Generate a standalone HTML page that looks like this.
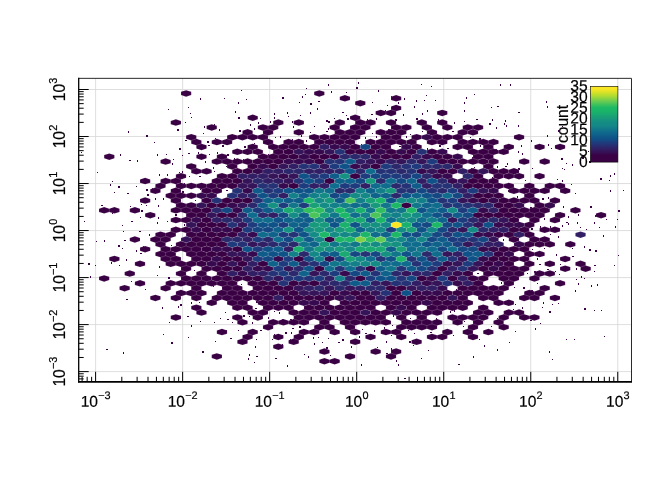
<!DOCTYPE html><html><head><meta charset="utf-8"><title>hexbin</title>
<style>html,body{margin:0;padding:0;background:#fff}svg{display:block}text{font-family:"Liberation Sans",sans-serif;fill:#000}</style></head><body>
<svg width="672" height="480" viewBox="0 0 672 480">
<rect width="672" height="480" fill="#fff"/>
<path d="M95.60 78.30V381.80M78.70 89.50H632.00M182.63 78.30V381.80M78.70 136.52H632.00M269.66 78.30V381.80M78.70 183.54H632.00M356.69 78.30V381.80M78.70 230.56H632.00M443.72 78.30V381.80M78.70 277.58H632.00M530.75 78.30V381.80M78.70 324.60H632.00M617.78 78.30V381.80M78.70 371.62H632.00" stroke="#d6d6d6" stroke-width="0.8" fill="none"/>
<g fill="#3a0044" shape-rendering="crispEdges">
<rect x="328" y="84" width="1" height="2"/>
<rect x="358" y="82" width="1" height="2"/>
<rect x="421" y="84" width="1" height="1"/>
<rect x="431" y="86" width="1" height="1"/>
<rect x="500" y="84" width="1" height="2"/>
<rect x="510" y="84" width="1" height="2"/>
<rect x="241" y="90" width="1" height="1"/>
<rect x="306" y="88" width="1" height="1"/>
<rect x="356" y="87" width="2" height="2"/>
<rect x="378" y="90" width="1" height="2"/>
<rect x="305" y="94" width="1" height="1"/>
<rect x="331" y="91" width="1" height="2"/>
<rect x="346" y="92" width="1" height="1"/>
<rect x="391" y="96" width="1" height="1"/>
<rect x="426" y="95" width="1" height="1"/>
<rect x="474" y="94" width="1" height="1"/>
<rect x="200" y="98" width="1" height="2"/>
<rect x="224" y="98" width="1" height="1"/>
<rect x="246" y="99" width="1" height="1"/>
<rect x="282" y="97" width="2" height="2"/>
<rect x="302" y="96" width="1" height="2"/>
<rect x="318" y="101" width="2" height="1"/>
<rect x="404" y="98" width="1" height="2"/>
<rect x="416" y="100" width="1" height="2"/>
<rect x="424" y="100" width="1" height="1"/>
<rect x="435" y="100" width="1" height="1"/>
<rect x="466" y="97" width="1" height="2"/>
<rect x="238" y="102" width="1" height="2"/>
<rect x="299" y="102" width="1" height="1"/>
<rect x="310" y="103" width="2" height="2"/>
<rect x="372" y="102" width="1" height="1"/>
<rect x="387" y="105" width="1" height="1"/>
<rect x="398" y="102" width="1" height="2"/>
<rect x="414" y="106" width="1" height="2"/>
<rect x="464" y="102" width="1" height="2"/>
<rect x="546" y="101" width="1" height="2"/>
<rect x="168" y="109" width="1" height="1"/>
<rect x="188" y="107" width="1" height="1"/>
<rect x="317" y="108" width="1" height="2"/>
<rect x="385" y="110" width="1" height="2"/>
<rect x="427" y="110" width="1" height="2"/>
<rect x="464" y="110" width="1" height="2"/>
<rect x="491" y="107" width="1" height="1"/>
<rect x="497" y="106" width="2" height="1"/>
<rect x="547" y="106" width="1" height="2"/>
<rect x="190" y="113" width="1" height="1"/>
<rect x="235" y="111" width="1" height="2"/>
<rect x="274" y="113" width="1" height="2"/>
<rect x="287" y="112" width="1" height="2"/>
<rect x="300" y="115" width="1" height="1"/>
<rect x="310" y="112" width="1" height="2"/>
<rect x="342" y="112" width="2" height="1"/>
<rect x="346" y="115" width="1" height="1"/>
<rect x="371" y="114" width="2" height="1"/>
<rect x="403" y="114" width="1" height="2"/>
<rect x="422" y="113" width="1" height="2"/>
<rect x="518" y="112" width="2" height="1"/>
<rect x="191" y="117" width="1" height="1"/>
<rect x="238" y="117" width="2" height="2"/>
<rect x="260" y="118" width="1" height="1"/>
<rect x="274" y="117" width="1" height="2"/>
<rect x="288" y="116" width="1" height="1"/>
<rect x="326" y="120" width="2" height="2"/>
<rect x="334" y="118" width="1" height="1"/>
<rect x="347" y="118" width="2" height="2"/>
<rect x="367" y="119" width="1" height="2"/>
<rect x="376" y="118" width="1" height="2"/>
<rect x="395" y="119" width="2" height="2"/>
<rect x="416" y="118" width="2" height="2"/>
<rect x="438" y="119" width="1" height="2"/>
<rect x="476" y="119" width="2" height="1"/>
<rect x="492" y="119" width="1" height="2"/>
<rect x="505" y="120" width="1" height="2"/>
<rect x="185" y="122" width="1" height="1"/>
<rect x="214" y="124" width="1" height="2"/>
<rect x="250" y="124" width="1" height="2"/>
<rect x="258" y="122" width="1" height="2"/>
<rect x="270" y="121" width="1" height="2"/>
<rect x="292" y="121" width="1" height="2"/>
<rect x="328" y="121" width="2" height="2"/>
<rect x="454" y="122" width="1" height="2"/>
<rect x="464" y="121" width="1" height="1"/>
<rect x="489" y="123" width="2" height="2"/>
<rect x="504" y="123" width="1" height="2"/>
<rect x="177" y="129" width="2" height="2"/>
<rect x="204" y="126" width="1" height="2"/>
<rect x="219" y="129" width="1" height="2"/>
<rect x="239" y="130" width="2" height="2"/>
<rect x="254" y="128" width="1" height="2"/>
<rect x="293" y="126" width="1" height="2"/>
<rect x="314" y="126" width="1" height="1"/>
<rect x="328" y="128" width="1" height="2"/>
<rect x="388" y="129" width="2" height="2"/>
<rect x="496" y="127" width="1" height="2"/>
<rect x="506" y="125" width="1" height="2"/>
<rect x="518" y="125" width="1" height="2"/>
<rect x="562" y="126" width="1" height="1"/>
<rect x="128" y="131" width="1" height="2"/>
<rect x="203" y="133" width="1" height="1"/>
<rect x="310" y="132" width="1" height="1"/>
<rect x="326" y="131" width="2" height="1"/>
<rect x="372" y="133" width="1" height="1"/>
<rect x="410" y="134" width="1" height="1"/>
<rect x="422" y="131" width="1" height="1"/>
<rect x="452" y="131" width="2" height="1"/>
<rect x="558" y="130" width="1" height="2"/>
<rect x="146" y="135" width="2" height="2"/>
<rect x="185" y="140" width="2" height="1"/>
<rect x="215" y="138" width="1" height="1"/>
<rect x="275" y="137" width="1" height="1"/>
<rect x="280" y="136" width="1" height="2"/>
<rect x="292" y="139" width="1" height="2"/>
<rect x="301" y="135" width="1" height="2"/>
<rect x="365" y="137" width="1" height="2"/>
<rect x="376" y="136" width="1" height="2"/>
<rect x="406" y="136" width="1" height="2"/>
<rect x="470" y="137" width="1" height="1"/>
<rect x="479" y="138" width="2" height="2"/>
<rect x="547" y="135" width="1" height="2"/>
<rect x="154" y="142" width="1" height="1"/>
<rect x="207" y="141" width="2" height="2"/>
<rect x="254" y="143" width="1" height="1"/>
<rect x="306" y="140" width="1" height="2"/>
<rect x="361" y="144" width="1" height="2"/>
<rect x="531" y="140" width="1" height="2"/>
<rect x="548" y="144" width="1" height="2"/>
<rect x="179" y="148" width="2" height="2"/>
<rect x="208" y="145" width="2" height="1"/>
<rect x="222" y="145" width="2" height="2"/>
<rect x="244" y="146" width="2" height="2"/>
<rect x="399" y="146" width="2" height="1"/>
<rect x="427" y="148" width="1" height="2"/>
<rect x="439" y="145" width="2" height="2"/>
<rect x="447" y="148" width="2" height="1"/>
<rect x="480" y="145" width="1" height="2"/>
<rect x="495" y="149" width="2" height="2"/>
<rect x="521" y="145" width="1" height="2"/>
<rect x="551" y="148" width="1" height="1"/>
<rect x="597" y="146" width="2" height="1"/>
<rect x="81" y="152" width="1" height="1"/>
<rect x="120" y="154" width="1" height="2"/>
<rect x="157" y="154" width="1" height="2"/>
<rect x="166" y="154" width="1" height="1"/>
<rect x="188" y="153" width="2" height="1"/>
<rect x="198" y="152" width="1" height="2"/>
<rect x="209" y="154" width="1" height="1"/>
<rect x="217" y="152" width="1" height="2"/>
<rect x="227" y="154" width="2" height="2"/>
<rect x="268" y="154" width="1" height="1"/>
<rect x="518" y="151" width="1" height="2"/>
<rect x="522" y="153" width="1" height="2"/>
<rect x="588" y="151" width="1" height="1"/>
<rect x="600" y="150" width="2" height="2"/>
<rect x="173" y="159" width="1" height="1"/>
<rect x="182" y="155" width="1" height="1"/>
<rect x="234" y="158" width="1" height="2"/>
<rect x="243" y="159" width="1" height="1"/>
<rect x="472" y="157" width="1" height="2"/>
<rect x="561" y="158" width="2" height="2"/>
<rect x="582" y="157" width="2" height="2"/>
<rect x="129" y="160" width="2" height="1"/>
<rect x="137" y="160" width="1" height="2"/>
<rect x="172" y="163" width="1" height="2"/>
<rect x="205" y="161" width="1" height="2"/>
<rect x="507" y="163" width="1" height="2"/>
<rect x="566" y="163" width="1" height="1"/>
<rect x="572" y="164" width="1" height="2"/>
<rect x="589" y="161" width="2" height="2"/>
<rect x="213" y="167" width="1" height="2"/>
<rect x="226" y="166" width="1" height="1"/>
<rect x="471" y="168" width="1" height="2"/>
<rect x="474" y="167" width="1" height="1"/>
<rect x="497" y="166" width="1" height="2"/>
<rect x="505" y="166" width="2" height="1"/>
<rect x="518" y="168" width="2" height="2"/>
<rect x="532" y="168" width="1" height="1"/>
<rect x="562" y="168" width="1" height="1"/>
<rect x="97" y="172" width="1" height="1"/>
<rect x="167" y="174" width="1" height="2"/>
<rect x="179" y="172" width="1" height="1"/>
<rect x="182" y="171" width="1" height="2"/>
<rect x="214" y="171" width="1" height="1"/>
<rect x="564" y="169" width="1" height="1"/>
<rect x="614" y="173" width="1" height="2"/>
<rect x="159" y="174" width="1" height="2"/>
<rect x="189" y="176" width="1" height="1"/>
<rect x="199" y="176" width="2" height="1"/>
<rect x="459" y="179" width="1" height="2"/>
<rect x="492" y="177" width="1" height="2"/>
<rect x="600" y="178" width="2" height="2"/>
<rect x="610" y="175" width="1" height="2"/>
<rect x="112" y="181" width="1" height="1"/>
<rect x="184" y="183" width="1" height="1"/>
<rect x="525" y="180" width="1" height="1"/>
<rect x="557" y="179" width="1" height="1"/>
<rect x="562" y="180" width="1" height="2"/>
<rect x="609" y="180" width="1" height="1"/>
<rect x="110" y="184" width="1" height="2"/>
<rect x="118" y="186" width="2" height="2"/>
<rect x="136" y="186" width="1" height="1"/>
<rect x="152" y="188" width="1" height="2"/>
<rect x="571" y="184" width="1" height="1"/>
<rect x="114" y="192" width="1" height="1"/>
<rect x="127" y="193" width="2" height="1"/>
<rect x="146" y="189" width="2" height="2"/>
<rect x="182" y="191" width="2" height="2"/>
<rect x="200" y="189" width="1" height="1"/>
<rect x="226" y="190" width="2" height="1"/>
<rect x="508" y="190" width="1" height="2"/>
<rect x="575" y="193" width="1" height="1"/>
<rect x="610" y="190" width="1" height="2"/>
<rect x="623" y="190" width="1" height="1"/>
<rect x="147" y="194" width="2" height="2"/>
<rect x="163" y="198" width="1" height="2"/>
<rect x="517" y="196" width="1" height="2"/>
<rect x="542" y="198" width="2" height="2"/>
<rect x="548" y="197" width="1" height="2"/>
<rect x="155" y="198" width="1" height="2"/>
<rect x="195" y="200" width="1" height="1"/>
<rect x="543" y="199" width="1" height="1"/>
<rect x="101" y="205" width="2" height="1"/>
<rect x="130" y="206" width="1" height="1"/>
<rect x="141" y="204" width="1" height="1"/>
<rect x="146" y="205" width="1" height="1"/>
<rect x="158" y="205" width="1" height="2"/>
<rect x="530" y="207" width="2" height="2"/>
<rect x="563" y="206" width="1" height="2"/>
<rect x="590" y="206" width="2" height="2"/>
<rect x="141" y="210" width="2" height="2"/>
<rect x="618" y="210" width="2" height="2"/>
<rect x="112" y="213" width="1" height="1"/>
<rect x="140" y="217" width="1" height="1"/>
<rect x="158" y="217" width="1" height="2"/>
<rect x="175" y="214" width="2" height="2"/>
<rect x="568" y="216" width="1" height="2"/>
<rect x="578" y="214" width="1" height="2"/>
<rect x="595" y="215" width="1" height="2"/>
<rect x="84" y="221" width="1" height="1"/>
<rect x="131" y="221" width="2" height="1"/>
<rect x="157" y="222" width="1" height="2"/>
<rect x="167" y="221" width="1" height="1"/>
<rect x="544" y="218" width="1" height="2"/>
<rect x="566" y="222" width="2" height="1"/>
<rect x="577" y="222" width="1" height="2"/>
<rect x="594" y="222" width="1" height="2"/>
<rect x="606" y="219" width="1" height="1"/>
<rect x="617" y="219" width="1" height="1"/>
<rect x="122" y="225" width="1" height="1"/>
<rect x="184" y="224" width="1" height="2"/>
<rect x="540" y="226" width="1" height="2"/>
<rect x="550" y="226" width="1" height="2"/>
<rect x="562" y="225" width="1" height="2"/>
<rect x="568" y="223" width="1" height="2"/>
<rect x="580" y="227" width="1" height="1"/>
<rect x="599" y="227" width="1" height="1"/>
<rect x="615" y="226" width="1" height="2"/>
<rect x="123" y="231" width="1" height="1"/>
<rect x="139" y="231" width="2" height="1"/>
<rect x="531" y="228" width="2" height="2"/>
<rect x="586" y="229" width="1" height="1"/>
<rect x="149" y="234" width="1" height="2"/>
<rect x="550" y="234" width="1" height="1"/>
<rect x="558" y="236" width="1" height="2"/>
<rect x="603" y="235" width="1" height="2"/>
<rect x="96" y="241" width="1" height="1"/>
<rect x="104" y="240" width="1" height="2"/>
<rect x="124" y="240" width="2" height="1"/>
<rect x="503" y="239" width="1" height="2"/>
<rect x="118" y="245" width="2" height="2"/>
<rect x="143" y="246" width="1" height="1"/>
<rect x="171" y="245" width="1" height="1"/>
<rect x="584" y="246" width="1" height="2"/>
<rect x="122" y="248" width="1" height="1"/>
<rect x="136" y="250" width="1" height="2"/>
<rect x="532" y="249" width="1" height="1"/>
<rect x="544" y="248" width="1" height="1"/>
<rect x="572" y="248" width="1" height="1"/>
<rect x="589" y="249" width="2" height="2"/>
<rect x="595" y="250" width="2" height="2"/>
<rect x="140" y="253" width="2" height="1"/>
<rect x="556" y="254" width="1" height="2"/>
<rect x="572" y="256" width="2" height="1"/>
<rect x="618" y="255" width="1" height="1"/>
<rect x="126" y="259" width="1" height="2"/>
<rect x="537" y="258" width="1" height="2"/>
<rect x="88" y="263" width="2" height="2"/>
<rect x="95" y="265" width="1" height="1"/>
<rect x="111" y="262" width="1" height="2"/>
<rect x="119" y="265" width="1" height="1"/>
<rect x="539" y="264" width="2" height="1"/>
<rect x="560" y="264" width="1" height="1"/>
<rect x="594" y="265" width="2" height="1"/>
<rect x="614" y="265" width="1" height="1"/>
<rect x="159" y="266" width="1" height="2"/>
<rect x="194" y="270" width="1" height="1"/>
<rect x="534" y="271" width="2" height="2"/>
<rect x="547" y="269" width="2" height="1"/>
<rect x="555" y="271" width="1" height="1"/>
<rect x="576" y="268" width="1" height="2"/>
<rect x="594" y="271" width="1" height="1"/>
<rect x="90" y="276" width="1" height="2"/>
<rect x="157" y="275" width="1" height="1"/>
<rect x="477" y="273" width="2" height="1"/>
<rect x="527" y="273" width="1" height="1"/>
<rect x="559" y="274" width="1" height="1"/>
<rect x="581" y="276" width="1" height="2"/>
<rect x="168" y="277" width="2" height="2"/>
<rect x="576" y="279" width="1" height="1"/>
<rect x="584" y="278" width="1" height="1"/>
<rect x="131" y="281" width="1" height="1"/>
<rect x="241" y="284" width="1" height="1"/>
<rect x="501" y="282" width="1" height="2"/>
<rect x="537" y="283" width="1" height="1"/>
<rect x="578" y="283" width="1" height="2"/>
<rect x="591" y="285" width="1" height="2"/>
<rect x="597" y="284" width="1" height="2"/>
<rect x="145" y="289" width="1" height="1"/>
<rect x="213" y="286" width="1" height="1"/>
<rect x="456" y="289" width="1" height="2"/>
<rect x="514" y="287" width="1" height="1"/>
<rect x="523" y="287" width="2" height="2"/>
<rect x="531" y="290" width="2" height="1"/>
<rect x="575" y="290" width="1" height="2"/>
<rect x="126" y="299" width="2" height="1"/>
<rect x="180" y="304" width="2" height="2"/>
<rect x="191" y="302" width="1" height="2"/>
<rect x="199" y="302" width="1" height="1"/>
<rect x="256" y="301" width="2" height="2"/>
<rect x="515" y="304" width="1" height="1"/>
<rect x="543" y="302" width="1" height="2"/>
<rect x="552" y="304" width="1" height="1"/>
<rect x="558" y="303" width="1" height="1"/>
<rect x="162" y="307" width="1" height="2"/>
<rect x="178" y="306" width="1" height="2"/>
<rect x="255" y="308" width="2" height="1"/>
<rect x="296" y="310" width="1" height="2"/>
<rect x="506" y="310" width="1" height="2"/>
<rect x="513" y="309" width="1" height="1"/>
<rect x="522" y="307" width="1" height="2"/>
<rect x="542" y="307" width="1" height="1"/>
<rect x="584" y="308" width="2" height="2"/>
<rect x="594" y="310" width="1" height="1"/>
<rect x="225" y="312" width="1" height="1"/>
<rect x="243" y="315" width="2" height="2"/>
<rect x="274" y="311" width="1" height="1"/>
<rect x="279" y="312" width="1" height="2"/>
<rect x="450" y="311" width="1" height="2"/>
<rect x="454" y="310" width="1" height="2"/>
<rect x="549" y="311" width="2" height="2"/>
<rect x="601" y="310" width="1" height="1"/>
<rect x="187" y="316" width="2" height="1"/>
<rect x="220" y="318" width="1" height="1"/>
<rect x="227" y="319" width="2" height="1"/>
<rect x="249" y="316" width="1" height="1"/>
<rect x="268" y="317" width="1" height="2"/>
<rect x="282" y="319" width="2" height="2"/>
<rect x="290" y="319" width="2" height="1"/>
<rect x="393" y="315" width="1" height="2"/>
<rect x="410" y="318" width="1" height="1"/>
<rect x="436" y="318" width="1" height="2"/>
<rect x="497" y="318" width="1" height="1"/>
<rect x="169" y="322" width="1" height="1"/>
<rect x="191" y="325" width="1" height="2"/>
<rect x="200" y="321" width="1" height="1"/>
<rect x="214" y="322" width="1" height="1"/>
<rect x="232" y="322" width="1" height="1"/>
<rect x="252" y="322" width="1" height="2"/>
<rect x="464" y="321" width="1" height="1"/>
<rect x="530" y="320" width="2" height="1"/>
<rect x="540" y="323" width="1" height="1"/>
<rect x="226" y="330" width="1" height="2"/>
<rect x="292" y="328" width="2" height="1"/>
<rect x="299" y="326" width="2" height="2"/>
<rect x="362" y="329" width="1" height="1"/>
<rect x="384" y="327" width="1" height="2"/>
<rect x="392" y="325" width="1" height="1"/>
<rect x="463" y="326" width="1" height="1"/>
<rect x="491" y="326" width="1" height="1"/>
<rect x="535" y="328" width="1" height="2"/>
<rect x="163" y="334" width="1" height="1"/>
<rect x="238" y="330" width="1" height="1"/>
<rect x="260" y="330" width="2" height="1"/>
<rect x="274" y="334" width="1" height="1"/>
<rect x="285" y="332" width="2" height="2"/>
<rect x="291" y="332" width="1" height="2"/>
<rect x="365" y="333" width="2" height="1"/>
<rect x="374" y="330" width="1" height="2"/>
<rect x="408" y="330" width="1" height="1"/>
<rect x="414" y="333" width="1" height="1"/>
<rect x="430" y="332" width="2" height="1"/>
<rect x="515" y="331" width="1" height="1"/>
<rect x="188" y="337" width="1" height="1"/>
<rect x="230" y="338" width="2" height="1"/>
<rect x="256" y="339" width="1" height="1"/>
<rect x="290" y="339" width="1" height="1"/>
<rect x="313" y="337" width="1" height="2"/>
<rect x="318" y="337" width="1" height="1"/>
<rect x="328" y="338" width="1" height="1"/>
<rect x="342" y="339" width="2" height="2"/>
<rect x="359" y="336" width="1" height="2"/>
<rect x="391" y="335" width="1" height="1"/>
<rect x="453" y="335" width="1" height="1"/>
<rect x="566" y="339" width="1" height="1"/>
<rect x="574" y="339" width="1" height="1"/>
<rect x="604" y="336" width="1" height="1"/>
<rect x="171" y="342" width="2" height="2"/>
<rect x="215" y="341" width="1" height="1"/>
<rect x="272" y="339" width="1" height="1"/>
<rect x="282" y="344" width="1" height="1"/>
<rect x="314" y="343" width="1" height="2"/>
<rect x="322" y="342" width="1" height="1"/>
<rect x="338" y="342" width="2" height="1"/>
<rect x="386" y="341" width="1" height="2"/>
<rect x="409" y="341" width="2" height="2"/>
<rect x="479" y="339" width="1" height="1"/>
<rect x="509" y="342" width="1" height="1"/>
<rect x="255" y="346" width="1" height="2"/>
<rect x="326" y="347" width="2" height="2"/>
<rect x="351" y="346" width="1" height="2"/>
<rect x="377" y="347" width="1" height="1"/>
<rect x="391" y="348" width="1" height="2"/>
<rect x="413" y="345" width="1" height="1"/>
<rect x="484" y="345" width="1" height="2"/>
<rect x="497" y="349" width="1" height="2"/>
<rect x="106" y="349" width="2" height="1"/>
<rect x="123" y="352" width="1" height="2"/>
<rect x="202" y="351" width="2" height="2"/>
<rect x="249" y="354" width="1" height="2"/>
<rect x="304" y="354" width="1" height="1"/>
<rect x="386" y="353" width="2" height="1"/>
<rect x="428" y="350" width="1" height="1"/>
<rect x="549" y="351" width="1" height="2"/>
<rect x="248" y="358" width="1" height="2"/>
<rect x="256" y="356" width="2" height="1"/>
<rect x="275" y="358" width="2" height="1"/>
<rect x="308" y="356" width="1" height="2"/>
<rect x="330" y="355" width="1" height="1"/>
<rect x="421" y="358" width="1" height="1"/>
<rect x="473" y="356" width="1" height="2"/>
<rect x="254" y="362" width="1" height="1"/>
<rect x="396" y="360" width="1" height="2"/>
<rect x="458" y="364" width="2" height="1"/>
<rect x="552" y="359" width="1" height="1"/>
<rect x="287" y="365" width="1" height="2"/>
<rect x="361" y="364" width="1" height="2"/>
<rect x="398" y="364" width="1" height="2"/>
<rect x="404" y="378" width="2" height="1"/>
</g>
<path d="M186.11 90.15L191.23 91.78L191.23 95.02L186.11 96.65L180.99 95.02L180.99 91.78ZM319.29 90.15L324.42 91.78L324.42 95.02L319.29 96.65L314.17 95.02L314.17 91.78ZM344.91 95.02L350.03 96.65L350.03 99.89L344.91 101.52L339.79 99.89L339.79 96.65ZM396.13 95.02L401.25 96.65L401.25 99.89L396.13 101.52L391.01 99.89L391.01 96.65ZM360.27 99.89L365.40 101.52L365.40 104.76L360.27 106.39L355.15 104.76L355.15 101.52ZM396.13 104.76L401.25 106.39L401.25 109.63L396.13 111.26L391.01 109.63L391.01 106.39ZM380.76 109.63L385.89 111.26L385.89 114.50L380.76 116.13L375.64 114.50L375.64 111.26ZM391.01 109.63L396.13 111.26L396.13 114.50L391.01 116.13L385.89 114.50L385.89 111.26ZM442.24 109.63L447.36 111.26L447.36 114.50L442.24 116.13L437.11 114.50L437.11 111.26ZM252.70 114.50L257.82 116.13L257.82 119.37L252.70 121.00L247.58 119.37L247.58 116.13ZM355.15 114.50L360.27 116.13L360.27 119.37L355.15 121.00L350.03 119.37L350.03 116.13ZM175.87 119.37L180.99 121.00L180.99 124.24L175.87 125.87L170.74 124.24L170.74 121.00ZM278.31 119.37L283.44 121.00L283.44 124.24L278.31 125.87L273.19 124.24L273.19 121.00ZM298.80 119.37L303.93 121.00L303.93 124.24L298.80 125.87L293.68 124.24L293.68 121.00ZM339.78 119.37L344.91 121.00L344.91 124.24L339.78 125.87L334.66 124.24L334.66 121.00ZM360.27 119.37L365.40 121.00L365.40 124.24L360.27 125.87L355.15 124.24L355.15 121.00ZM370.52 119.37L375.64 121.00L375.64 124.24L370.52 125.87L365.40 124.24L365.40 121.00ZM391.01 119.37L396.13 121.00L396.13 124.24L391.01 125.87L385.89 124.24L385.89 121.00ZM421.75 119.37L426.87 121.00L426.87 124.24L421.75 125.87L416.62 124.24L416.62 121.00ZM442.24 119.37L447.36 121.00L447.36 124.24L442.24 125.87L437.11 124.24L437.11 121.00ZM211.72 124.24L216.84 125.87L216.84 129.11L211.72 130.74L206.60 129.11L206.60 125.87ZM262.95 124.24L268.07 125.87L268.07 129.11L262.95 130.74L257.82 129.11L257.82 125.87ZM273.19 124.24L278.31 125.87L278.31 129.11L273.19 130.74L268.07 129.11L268.07 125.87ZM334.66 124.24L339.79 125.87L339.79 129.11L334.66 130.74L329.54 129.11L329.54 125.87ZM355.15 124.24L360.27 125.87L360.27 129.11L355.15 130.74L350.03 129.11L350.03 125.87ZM365.40 124.24L370.52 125.87L370.52 129.11L365.40 130.74L360.28 129.11L360.28 125.87ZM396.13 124.24L401.25 125.87L401.25 129.11L396.13 130.74L391.01 129.11L391.01 125.87ZM406.38 124.24L411.50 125.87L411.50 129.11L406.38 130.74L401.25 129.11L401.25 125.87ZM426.87 124.24L431.99 125.87L431.99 129.11L426.87 130.74L421.74 129.11L421.74 125.87ZM447.36 124.24L452.48 125.87L452.48 129.11L447.36 130.74L442.23 129.11L442.23 125.87ZM467.85 124.24L472.97 125.87L472.97 129.11L467.85 130.74L462.72 129.11L462.72 125.87ZM478.09 124.24L483.21 125.87L483.21 129.11L478.09 130.74L472.97 129.11L472.97 125.87ZM247.58 129.11L252.70 130.74L252.70 133.98L247.58 135.61L242.46 133.98L242.46 130.74ZM268.07 129.11L273.19 130.74L273.19 133.98L268.07 135.61L262.95 133.98L262.95 130.74ZM298.80 129.11L303.93 130.74L303.93 133.98L298.80 135.61L293.68 133.98L293.68 130.74ZM339.78 129.11L344.91 130.74L344.91 133.98L339.78 135.61L334.66 133.98L334.66 130.74ZM350.03 129.11L355.15 130.74L355.15 133.98L350.03 135.61L344.91 133.98L344.91 130.74ZM360.27 129.11L365.40 130.74L365.40 133.98L360.27 135.61L355.15 133.98L355.15 130.74ZM380.76 129.11L385.89 130.74L385.89 133.98L380.76 135.61L375.64 133.98L375.64 130.74ZM401.25 129.11L406.38 130.74L406.38 133.98L401.25 135.61L396.13 133.98L396.13 130.74ZM431.99 129.11L437.11 130.74L437.11 133.98L431.99 135.61L426.87 133.98L426.87 130.74ZM462.73 129.11L467.85 130.74L467.85 133.98L462.73 135.61L457.60 133.98L457.60 130.74ZM191.23 133.98L196.36 135.61L196.36 138.85L191.23 140.48L186.11 138.85L186.11 135.61ZM232.21 133.98L237.34 135.61L237.34 138.85L232.21 140.48L227.09 138.85L227.09 135.61ZM242.46 133.98L247.58 135.61L247.58 138.85L242.46 140.48L237.33 138.85L237.33 135.61ZM252.70 133.98L257.82 135.61L257.82 138.85L252.70 140.48L247.58 138.85L247.58 135.61ZM262.95 133.98L268.07 135.61L268.07 138.85L262.95 140.48L257.82 138.85L257.82 135.61ZM314.17 133.98L319.30 135.61L319.30 138.85L314.17 140.48L309.05 138.85L309.05 135.61ZM334.66 133.98L339.79 135.61L339.79 138.85L334.66 140.48L329.54 138.85L329.54 135.61ZM344.91 133.98L350.03 135.61L350.03 138.85L344.91 140.48L339.79 138.85L339.79 135.61ZM355.15 133.98L360.27 135.61L360.27 138.85L355.15 140.48L350.03 138.85L350.03 135.61ZM385.89 133.98L391.01 135.61L391.01 138.85L385.89 140.48L380.76 138.85L380.76 135.61ZM396.13 133.98L401.25 135.61L401.25 138.85L396.13 140.48L391.01 138.85L391.01 135.61ZM437.11 133.98L442.23 135.61L442.23 138.85L437.11 140.48L431.99 138.85L431.99 135.61ZM447.36 133.98L452.48 135.61L452.48 138.85L447.36 140.48L442.23 138.85L442.23 135.61ZM457.60 133.98L462.72 135.61L462.72 138.85L457.60 140.48L452.48 138.85L452.48 135.61ZM519.07 133.98L524.19 135.61L524.19 138.85L519.07 140.48L513.95 138.85L513.95 135.61ZM196.36 138.85L201.48 140.48L201.48 143.72L196.36 145.35L191.23 143.72L191.23 140.48ZM216.84 138.85L221.97 140.48L221.97 143.72L216.84 145.35L211.72 143.72L211.72 140.48ZM227.09 138.85L232.21 140.48L232.21 143.72L227.09 145.35L221.97 143.72L221.97 140.48ZM268.07 138.85L273.19 140.48L273.19 143.72L268.07 145.35L262.95 143.72L262.95 140.48ZM288.56 138.85L293.68 140.48L293.68 143.72L288.56 145.35L283.44 143.72L283.44 140.48ZM298.80 138.85L303.93 140.48L303.93 143.72L298.80 145.35L293.68 143.72L293.68 140.48ZM319.29 138.85L324.42 140.48L324.42 143.72L319.29 145.35L314.17 143.72L314.17 140.48ZM329.54 138.85L334.66 140.48L334.66 143.72L329.54 145.35L324.42 143.72L324.42 140.48ZM339.78 138.85L344.91 140.48L344.91 143.72L339.78 145.35L334.66 143.72L334.66 140.48ZM380.76 138.85L385.89 140.48L385.89 143.72L380.76 145.35L375.64 143.72L375.64 140.48ZM391.01 138.85L396.13 140.48L396.13 143.72L391.01 145.35L385.89 143.72L385.89 140.48ZM401.25 138.85L406.38 140.48L406.38 143.72L401.25 145.35L396.13 143.72L396.13 140.48ZM431.99 138.85L437.11 140.48L437.11 143.72L431.99 145.35L426.87 143.72L426.87 140.48ZM442.24 138.85L447.36 140.48L447.36 143.72L442.24 145.35L437.11 143.72L437.11 140.48ZM462.73 138.85L467.85 140.48L467.85 143.72L462.73 145.35L457.60 143.72L457.60 140.48ZM472.97 138.85L478.09 140.48L478.09 143.72L472.97 145.35L467.85 143.72L467.85 140.48ZM483.22 138.85L488.34 140.48L488.34 143.72L483.22 145.35L478.09 143.72L478.09 140.48ZM493.46 138.85L498.58 140.48L498.58 143.72L493.46 145.35L488.34 143.72L488.34 140.48ZM201.48 143.72L206.60 145.35L206.60 148.59L201.48 150.22L196.35 148.59L196.35 145.35ZM252.70 143.72L257.82 145.35L257.82 148.59L252.70 150.22L247.58 148.59L247.58 145.35ZM273.19 143.72L278.31 145.35L278.31 148.59L273.19 150.22L268.07 148.59L268.07 145.35ZM283.44 143.72L288.56 145.35L288.56 148.59L283.44 150.22L278.31 148.59L278.31 145.35ZM293.68 143.72L298.81 145.35L298.81 148.59L293.68 150.22L288.56 148.59L288.56 145.35ZM303.93 143.72L309.05 145.35L309.05 148.59L303.93 150.22L298.81 148.59L298.81 145.35ZM314.17 143.72L319.30 145.35L319.30 148.59L314.17 150.22L309.05 148.59L309.05 145.35ZM355.15 143.72L360.27 145.35L360.27 148.59L355.15 150.22L350.03 148.59L350.03 145.35ZM375.64 143.72L380.77 145.35L380.77 148.59L375.64 150.22L370.52 148.59L370.52 145.35ZM385.89 143.72L391.01 145.35L391.01 148.59L385.89 150.22L380.76 148.59L380.76 145.35ZM457.60 143.72L462.72 145.35L462.72 148.59L457.60 150.22L452.48 148.59L452.48 145.35ZM467.85 143.72L472.97 145.35L472.97 148.59L467.85 150.22L462.72 148.59L462.72 145.35ZM488.34 143.72L493.46 145.35L493.46 148.59L488.34 150.22L483.21 148.59L483.21 145.35ZM508.83 143.72L513.95 145.35L513.95 148.59L508.83 150.22L503.70 148.59L503.70 145.35ZM539.56 143.72L544.68 145.35L544.68 148.59L539.56 150.22L534.44 148.59L534.44 145.35ZM560.05 143.72L565.17 145.35L565.17 148.59L560.05 150.22L554.93 148.59L554.93 145.35ZM237.34 148.59L242.46 150.22L242.46 153.46L237.34 155.09L232.21 153.46L232.21 150.22ZM247.58 148.59L252.70 150.22L252.70 153.46L247.58 155.09L242.46 153.46L242.46 150.22ZM278.31 148.59L283.44 150.22L283.44 153.46L278.31 155.09L273.19 153.46L273.19 150.22ZM350.03 148.59L355.15 150.22L355.15 153.46L350.03 155.09L344.91 153.46L344.91 150.22ZM360.27 148.59L365.40 150.22L365.40 153.46L360.27 155.09L355.15 153.46L355.15 150.22ZM370.52 148.59L375.64 150.22L375.64 153.46L370.52 155.09L365.40 153.46L365.40 150.22ZM391.01 148.59L396.13 150.22L396.13 153.46L391.01 155.09L385.89 153.46L385.89 150.22ZM411.50 148.59L416.62 150.22L416.62 153.46L411.50 155.09L406.38 153.46L406.38 150.22ZM431.99 148.59L437.11 150.22L437.11 153.46L431.99 155.09L426.87 153.46L426.87 150.22ZM472.97 148.59L478.09 150.22L478.09 153.46L472.97 155.09L467.85 153.46L467.85 150.22ZM483.22 148.59L488.34 150.22L488.34 153.46L483.22 155.09L478.09 153.46L478.09 150.22ZM493.46 148.59L498.58 150.22L498.58 153.46L493.46 155.09L488.34 153.46L488.34 150.22ZM503.70 148.59L508.83 150.22L508.83 153.46L503.70 155.09L498.58 153.46L498.58 150.22ZM109.27 153.46L114.40 155.09L114.40 158.33L109.27 159.96L104.15 158.33L104.15 155.09ZM201.48 153.46L206.60 155.09L206.60 158.33L201.48 159.96L196.35 158.33L196.35 155.09ZM221.97 153.46L227.09 155.09L227.09 158.33L221.97 159.96L216.84 158.33L216.84 155.09ZM262.95 153.46L268.07 155.09L268.07 158.33L262.95 159.96L257.82 158.33L257.82 155.09ZM273.19 153.46L278.31 155.09L278.31 158.33L273.19 159.96L268.07 158.33L268.07 155.09ZM283.44 153.46L288.56 155.09L288.56 158.33L283.44 159.96L278.31 158.33L278.31 155.09ZM293.68 153.46L298.81 155.09L298.81 158.33L293.68 159.96L288.56 158.33L288.56 155.09ZM314.17 153.46L319.30 155.09L319.30 158.33L314.17 159.96L309.05 158.33L309.05 155.09ZM396.13 153.46L401.25 155.09L401.25 158.33L396.13 159.96L391.01 158.33L391.01 155.09ZM406.38 153.46L411.50 155.09L411.50 158.33L406.38 159.96L401.25 158.33L401.25 155.09ZM447.36 153.46L452.48 155.09L452.48 158.33L447.36 159.96L442.23 158.33L442.23 155.09ZM478.09 153.46L483.21 155.09L483.21 158.33L478.09 159.96L472.97 158.33L472.97 155.09ZM488.34 153.46L493.46 155.09L493.46 158.33L488.34 159.96L483.21 158.33L483.21 155.09ZM165.62 158.33L170.74 159.96L170.74 163.20L165.62 164.83L160.50 163.20L160.50 159.96ZM216.84 158.33L221.97 159.96L221.97 163.20L216.84 164.83L211.72 163.20L211.72 159.96ZM227.09 158.33L232.21 159.96L232.21 163.20L227.09 164.83L221.97 163.20L221.97 159.96ZM237.34 158.33L242.46 159.96L242.46 163.20L237.34 164.83L232.21 163.20L232.21 159.96ZM247.58 158.33L252.70 159.96L252.70 163.20L247.58 164.83L242.46 163.20L242.46 159.96ZM268.07 158.33L273.19 159.96L273.19 163.20L268.07 164.83L262.95 163.20L262.95 159.96ZM278.31 158.33L283.44 159.96L283.44 163.20L278.31 164.83L273.19 163.20L273.19 159.96ZM319.29 158.33L324.42 159.96L324.42 163.20L319.29 164.83L314.17 163.20L314.17 159.96ZM462.73 158.33L467.85 159.96L467.85 163.20L462.73 164.83L457.60 163.20L457.60 159.96ZM472.97 158.33L478.09 159.96L478.09 163.20L472.97 164.83L467.85 163.20L467.85 159.96ZM493.46 158.33L498.58 159.96L498.58 163.20L493.46 164.83L488.34 163.20L488.34 159.96ZM524.19 158.33L529.32 159.96L529.32 163.20L524.19 164.83L519.07 163.20L519.07 159.96ZM544.68 158.33L549.81 159.96L549.81 163.20L544.68 164.83L539.56 163.20L539.56 159.96ZM191.23 163.20L196.36 164.83L196.36 168.07L191.23 169.70L186.11 168.07L186.11 164.83ZM232.21 163.20L237.34 164.83L237.34 168.07L232.21 169.70L227.09 168.07L227.09 164.83ZM252.70 163.20L257.82 164.83L257.82 168.07L252.70 169.70L247.58 168.07L247.58 164.83ZM488.34 163.20L493.46 164.83L493.46 168.07L488.34 169.70L483.21 168.07L483.21 164.83ZM196.36 168.07L201.48 169.70L201.48 172.94L196.36 174.57L191.23 172.94L191.23 169.70ZM206.60 168.07L211.72 169.70L211.72 172.94L206.60 174.57L201.48 172.94L201.48 169.70ZM247.58 168.07L252.70 169.70L252.70 172.94L247.58 174.57L242.46 172.94L242.46 169.70ZM452.48 168.07L457.60 169.70L457.60 172.94L452.48 174.57L447.36 172.94L447.36 169.70ZM472.97 168.07L478.09 169.70L478.09 172.94L472.97 174.57L467.85 172.94L467.85 169.70ZM493.46 168.07L498.58 169.70L498.58 172.94L493.46 174.57L488.34 172.94L488.34 169.70ZM503.70 168.07L508.83 169.70L508.83 172.94L503.70 174.57L498.58 172.94L498.58 169.70ZM180.99 172.94L186.11 174.57L186.11 177.81L180.99 179.44L175.87 177.81L175.87 174.57ZM232.21 172.94L237.34 174.57L237.34 177.81L232.21 179.44L227.09 177.81L227.09 174.57ZM478.09 172.94L483.21 174.57L483.21 177.81L478.09 179.44L472.97 177.81L472.97 174.57ZM498.58 172.94L503.70 174.57L503.70 177.81L498.58 179.44L493.46 177.81L493.46 174.57ZM519.07 172.94L524.19 174.57L524.19 177.81L519.07 179.44L513.95 177.81L513.95 174.57ZM539.56 172.94L544.68 174.57L544.68 177.81L539.56 179.44L534.44 177.81L534.44 174.57ZM145.13 177.81L150.25 179.44L150.25 182.68L145.13 184.31L140.01 182.68L140.01 179.44ZM165.62 177.81L170.74 179.44L170.74 182.68L165.62 184.31L160.50 182.68L160.50 179.44ZM175.87 177.81L180.99 179.44L180.99 182.68L175.87 184.31L170.74 182.68L170.74 179.44ZM237.34 177.81L242.46 179.44L242.46 182.68L237.34 184.31L232.21 182.68L232.21 179.44ZM472.97 177.81L478.09 179.44L478.09 182.68L472.97 184.31L467.85 182.68L467.85 179.44ZM483.22 177.81L488.34 179.44L488.34 182.68L483.22 184.31L478.09 182.68L478.09 179.44ZM160.50 182.68L165.62 184.31L165.62 187.55L160.50 189.18L155.38 187.55L155.38 184.31ZM191.23 182.68L196.36 184.31L196.36 187.55L191.23 189.18L186.11 187.55L186.11 184.31ZM201.48 182.68L206.60 184.31L206.60 187.55L201.48 189.18L196.35 187.55L196.35 184.31ZM211.72 182.68L216.84 184.31L216.84 187.55L211.72 189.18L206.60 187.55L206.60 184.31ZM293.68 182.68L298.81 184.31L298.81 187.55L293.68 189.18L288.56 187.55L288.56 184.31ZM467.85 182.68L472.97 184.31L472.97 187.55L467.85 189.18L462.72 187.55L462.72 184.31ZM488.34 182.68L493.46 184.31L493.46 187.55L488.34 189.18L483.21 187.55L483.21 184.31ZM508.83 182.68L513.95 184.31L513.95 187.55L508.83 189.18L503.70 187.55L503.70 184.31ZM529.32 182.68L534.44 184.31L534.44 187.55L529.32 189.18L524.20 187.55L524.20 184.31ZM549.81 182.68L554.93 184.31L554.93 187.55L549.81 189.18L544.69 187.55L544.69 184.31ZM560.05 182.68L565.17 184.31L565.17 187.55L560.05 189.18L554.93 187.55L554.93 184.31ZM155.38 187.55L160.50 189.18L160.50 192.42L155.38 194.05L150.25 192.42L150.25 189.18ZM175.87 187.55L180.99 189.18L180.99 192.42L175.87 194.05L170.74 192.42L170.74 189.18ZM206.60 187.55L211.72 189.18L211.72 192.42L206.60 194.05L201.48 192.42L201.48 189.18ZM216.84 187.55L221.97 189.18L221.97 192.42L216.84 194.05L211.72 192.42L211.72 189.18ZM513.95 187.55L519.07 189.18L519.07 192.42L513.95 194.05L508.83 192.42L508.83 189.18ZM534.44 187.55L539.56 189.18L539.56 192.42L534.44 194.05L529.32 192.42L529.32 189.18ZM544.68 187.55L549.81 189.18L549.81 192.42L544.68 194.05L539.56 192.42L539.56 189.18ZM565.17 187.55L570.30 189.18L570.30 192.42L565.17 194.05L560.05 192.42L560.05 189.18ZM170.74 192.42L175.87 194.05L175.87 197.29L170.74 198.92L165.62 197.29L165.62 194.05ZM180.99 192.42L186.11 194.05L186.11 197.29L180.99 198.92L175.87 197.29L175.87 194.05ZM191.23 192.42L196.36 194.05L196.36 197.29L191.23 198.92L186.11 197.29L186.11 194.05ZM478.09 192.42L483.21 194.05L483.21 197.29L478.09 198.92L472.97 197.29L472.97 194.05ZM488.34 192.42L493.46 194.05L493.46 197.29L488.34 198.92L483.21 197.29L483.21 194.05ZM498.58 192.42L503.70 194.05L503.70 197.29L498.58 198.92L493.46 197.29L493.46 194.05ZM529.32 192.42L534.44 194.05L534.44 197.29L529.32 198.92L524.20 197.29L524.20 194.05ZM145.13 197.29L150.25 198.92L150.25 202.16L145.13 203.79L140.01 202.16L140.01 198.92ZM175.87 197.29L180.99 198.92L180.99 202.16L175.87 203.79L170.74 202.16L170.74 198.92ZM206.60 197.29L211.72 198.92L211.72 202.16L206.60 203.79L201.48 202.16L201.48 198.92ZM227.09 197.29L232.21 198.92L232.21 202.16L227.09 203.79L221.97 202.16L221.97 198.92ZM524.19 197.29L529.32 198.92L529.32 202.16L524.19 203.79L519.07 202.16L519.07 198.92ZM534.44 197.29L539.56 198.92L539.56 202.16L534.44 203.79L529.32 202.16L529.32 198.92ZM554.93 197.29L560.05 198.92L560.05 202.16L554.93 203.79L549.81 202.16L549.81 198.92ZM180.99 202.16L186.11 203.79L186.11 207.03L180.99 208.66L175.87 207.03L175.87 203.79ZM191.23 202.16L196.36 203.79L196.36 207.03L191.23 208.66L186.11 207.03L186.11 203.79ZM221.97 202.16L227.09 203.79L227.09 207.03L221.97 208.66L216.84 207.03L216.84 203.79ZM508.83 202.16L513.95 203.79L513.95 207.03L508.83 208.66L503.70 207.03L503.70 203.79ZM539.56 202.16L544.68 203.79L544.68 207.03L539.56 208.66L534.44 207.03L534.44 203.79ZM104.15 207.03L109.27 208.66L109.27 211.90L104.15 213.53L99.03 211.90L99.03 208.66ZM114.40 207.03L119.52 208.66L119.52 211.90L114.40 213.53L109.27 211.90L109.27 208.66ZM134.88 207.03L140.01 208.66L140.01 211.90L134.88 213.53L129.76 211.90L129.76 208.66ZM175.87 207.03L180.99 208.66L180.99 211.90L175.87 213.53L170.74 211.90L170.74 208.66ZM186.11 207.03L191.23 208.66L191.23 211.90L186.11 213.53L180.99 211.90L180.99 208.66ZM196.36 207.03L201.48 208.66L201.48 211.90L196.36 213.53L191.23 211.90L191.23 208.66ZM206.60 207.03L211.72 208.66L211.72 211.90L206.60 213.53L201.48 211.90L201.48 208.66ZM503.70 207.03L508.83 208.66L508.83 211.90L503.70 213.53L498.58 211.90L498.58 208.66ZM524.19 207.03L529.32 208.66L529.32 211.90L524.19 213.53L519.07 211.90L519.07 208.66ZM534.44 207.03L539.56 208.66L539.56 211.90L534.44 213.53L529.32 211.90L529.32 208.66ZM544.68 207.03L549.81 208.66L549.81 211.90L544.68 213.53L539.56 211.90L539.56 208.66ZM575.42 207.03L580.54 208.66L580.54 211.90L575.42 213.53L570.30 211.90L570.30 208.66ZM150.25 211.90L155.38 213.53L155.38 216.77L150.25 218.40L145.13 216.77L145.13 213.53ZM191.23 211.90L196.36 213.53L196.36 216.77L191.23 218.40L186.11 216.77L186.11 213.53ZM201.48 211.90L206.60 213.53L206.60 216.77L201.48 218.40L196.35 216.77L196.35 213.53ZM478.09 211.90L483.21 213.53L483.21 216.77L478.09 218.40L472.97 216.77L472.97 213.53ZM488.34 211.90L493.46 213.53L493.46 216.77L488.34 218.40L483.21 216.77L483.21 213.53ZM498.58 211.90L503.70 213.53L503.70 216.77L498.58 218.40L493.46 216.77L493.46 213.53ZM508.83 211.90L513.95 213.53L513.95 216.77L508.83 218.40L503.70 216.77L503.70 213.53ZM519.07 211.90L524.19 213.53L524.19 216.77L519.07 218.40L513.95 216.77L513.95 213.53ZM529.32 211.90L534.44 213.53L534.44 216.77L529.32 218.40L524.20 216.77L524.20 213.53ZM539.56 211.90L544.68 213.53L544.68 216.77L539.56 218.40L534.44 216.77L534.44 213.53ZM560.05 211.90L565.17 213.53L565.17 216.77L560.05 218.40L554.93 216.77L554.93 213.53ZM601.03 211.90L606.15 213.53L606.15 216.77L601.03 218.40L595.91 216.77L595.91 213.53ZM186.11 216.77L191.23 218.40L191.23 221.64L186.11 223.27L180.99 221.64L180.99 218.40ZM534.44 216.77L539.56 218.40L539.56 221.64L534.44 223.27L529.32 221.64L529.32 218.40ZM554.93 216.77L560.05 218.40L560.05 221.64L554.93 223.27L549.81 221.64L549.81 218.40ZM201.48 221.64L206.60 223.27L206.60 226.51L201.48 228.14L196.35 226.51L196.35 223.27ZM211.72 221.64L216.84 223.27L216.84 226.51L211.72 228.14L206.60 226.51L206.60 223.27ZM221.97 221.64L227.09 223.27L227.09 226.51L221.97 228.14L216.84 226.51L216.84 223.27ZM529.32 221.64L534.44 223.27L534.44 226.51L529.32 228.14L524.20 226.51L524.20 223.27ZM175.87 226.51L180.99 228.14L180.99 231.38L175.87 233.01L170.74 231.38L170.74 228.14ZM186.11 226.51L191.23 228.14L191.23 231.38L186.11 233.01L180.99 231.38L180.99 228.14ZM513.95 226.51L519.07 228.14L519.07 231.38L513.95 233.01L508.83 231.38L508.83 228.14ZM524.19 226.51L529.32 228.14L529.32 231.38L524.19 233.01L519.07 231.38L519.07 228.14ZM544.68 226.51L549.81 228.14L549.81 231.38L544.68 233.01L539.56 231.38L539.56 228.14ZM554.93 226.51L560.05 228.14L560.05 231.38L554.93 233.01L549.81 231.38L549.81 228.14ZM160.50 231.38L165.62 233.01L165.62 236.25L160.50 237.88L155.38 236.25L155.38 233.01ZM170.74 231.38L175.87 233.01L175.87 236.25L170.74 237.88L165.62 236.25L165.62 233.01ZM191.23 231.38L196.36 233.01L196.36 236.25L191.23 237.88L186.11 236.25L186.11 233.01ZM201.48 231.38L206.60 233.01L206.60 236.25L201.48 237.88L196.35 236.25L196.35 233.01ZM508.83 231.38L513.95 233.01L513.95 236.25L508.83 237.88L503.70 236.25L503.70 233.01ZM529.32 231.38L534.44 233.01L534.44 236.25L529.32 237.88L524.20 236.25L524.20 233.01ZM134.88 236.25L140.01 237.88L140.01 241.12L134.88 242.75L129.76 241.12L129.76 237.88ZM155.38 236.25L160.50 237.88L160.50 241.12L155.38 242.75L150.25 241.12L150.25 237.88ZM165.62 236.25L170.74 237.88L170.74 241.12L165.62 242.75L160.50 241.12L160.50 237.88ZM196.36 236.25L201.48 237.88L201.48 241.12L196.36 242.75L191.23 241.12L191.23 237.88ZM206.60 236.25L211.72 237.88L211.72 241.12L206.60 242.75L201.48 241.12L201.48 237.88ZM216.84 236.25L221.97 237.88L221.97 241.12L216.84 242.75L211.72 241.12L211.72 237.88ZM513.95 236.25L519.07 237.88L519.07 241.12L513.95 242.75L508.83 241.12L508.83 237.88ZM534.44 236.25L539.56 237.88L539.56 241.12L534.44 242.75L529.32 241.12L529.32 237.88ZM544.68 236.25L549.81 237.88L549.81 241.12L544.68 242.75L539.56 241.12L539.56 237.88ZM160.50 241.12L165.62 242.75L165.62 245.99L160.50 247.62L155.38 245.99L155.38 242.75ZM180.99 241.12L186.11 242.75L186.11 245.99L180.99 247.62L175.87 245.99L175.87 242.75ZM191.23 241.12L196.36 242.75L196.36 245.99L191.23 247.62L186.11 245.99L186.11 242.75ZM201.48 241.12L206.60 242.75L206.60 245.99L201.48 247.62L196.35 245.99L196.35 242.75ZM211.72 241.12L216.84 242.75L216.84 245.99L211.72 247.62L206.60 245.99L206.60 242.75ZM221.97 241.12L227.09 242.75L227.09 245.99L221.97 247.62L216.84 245.99L216.84 242.75ZM529.32 241.12L534.44 242.75L534.44 245.99L529.32 247.62L524.20 245.99L524.20 242.75ZM549.81 241.12L554.93 242.75L554.93 245.99L549.81 247.62L544.69 245.99L544.69 242.75ZM570.30 241.12L575.42 242.75L575.42 245.99L570.30 247.62L565.18 245.99L565.18 242.75ZM145.13 245.99L150.25 247.62L150.25 250.86L145.13 252.49L140.01 250.86L140.01 247.62ZM165.62 245.99L170.74 247.62L170.74 250.86L165.62 252.49L160.50 250.86L160.50 247.62ZM186.11 245.99L191.23 247.62L191.23 250.86L186.11 252.49L180.99 250.86L180.99 247.62ZM196.36 245.99L201.48 247.62L201.48 250.86L196.36 252.49L191.23 250.86L191.23 247.62ZM503.70 245.99L508.83 247.62L508.83 250.86L503.70 252.49L498.58 250.86L498.58 247.62ZM513.95 245.99L519.07 247.62L519.07 250.86L513.95 252.49L508.83 250.86L508.83 247.62ZM524.19 245.99L529.32 247.62L529.32 250.86L524.19 252.49L519.07 250.86L519.07 247.62ZM160.50 250.86L165.62 252.49L165.62 255.73L160.50 257.36L155.38 255.73L155.38 252.49ZM170.74 250.86L175.87 252.49L175.87 255.73L170.74 257.36L165.62 255.73L165.62 252.49ZM191.23 250.86L196.36 252.49L196.36 255.73L191.23 257.36L186.11 255.73L186.11 252.49ZM201.48 250.86L206.60 252.49L206.60 255.73L201.48 257.36L196.35 255.73L196.35 252.49ZM211.72 250.86L216.84 252.49L216.84 255.73L211.72 257.36L206.60 255.73L206.60 252.49ZM221.97 250.86L227.09 252.49L227.09 255.73L221.97 257.36L216.84 255.73L216.84 252.49ZM498.58 250.86L503.70 252.49L503.70 255.73L498.58 257.36L493.46 255.73L493.46 252.49ZM529.32 250.86L534.44 252.49L534.44 255.73L529.32 257.36L524.20 255.73L524.20 252.49ZM539.56 250.86L544.68 252.49L544.68 255.73L539.56 257.36L534.44 255.73L534.44 252.49ZM114.40 255.73L119.52 257.36L119.52 260.60L114.40 262.23L109.27 260.60L109.27 257.36ZM165.62 255.73L170.74 257.36L170.74 260.60L165.62 262.23L160.50 260.60L160.50 257.36ZM175.87 255.73L180.99 257.36L180.99 260.60L175.87 262.23L170.74 260.60L170.74 257.36ZM196.36 255.73L201.48 257.36L201.48 260.60L196.36 262.23L191.23 260.60L191.23 257.36ZM206.60 255.73L211.72 257.36L211.72 260.60L206.60 262.23L201.48 260.60L201.48 257.36ZM493.46 255.73L498.58 257.36L498.58 260.60L493.46 262.23L488.34 260.60L488.34 257.36ZM513.95 255.73L519.07 257.36L519.07 260.60L513.95 262.23L508.83 260.60L508.83 257.36ZM565.17 255.73L570.30 257.36L570.30 260.60L565.17 262.23L560.05 260.60L560.05 257.36ZM140.01 260.60L145.13 262.23L145.13 265.47L140.01 267.10L134.88 265.47L134.88 262.23ZM170.74 260.60L175.87 262.23L175.87 265.47L170.74 267.10L165.62 265.47L165.62 262.23ZM180.99 260.60L186.11 262.23L186.11 265.47L180.99 267.10L175.87 265.47L175.87 262.23ZM191.23 260.60L196.36 262.23L196.36 265.47L191.23 267.10L186.11 265.47L186.11 262.23ZM221.97 260.60L227.09 262.23L227.09 265.47L221.97 267.10L216.84 265.47L216.84 262.23ZM262.95 260.60L268.07 262.23L268.07 265.47L262.95 267.10L257.82 265.47L257.82 262.23ZM488.34 260.60L493.46 262.23L493.46 265.47L488.34 267.10L483.21 265.47L483.21 262.23ZM508.83 260.60L513.95 262.23L513.95 265.47L508.83 267.10L503.70 265.47L503.70 262.23ZM529.32 260.60L534.44 262.23L534.44 265.47L529.32 267.10L524.20 265.47L524.20 262.23ZM549.81 260.60L554.93 262.23L554.93 265.47L549.81 267.10L544.69 265.47L544.69 262.23ZM580.54 260.60L585.66 262.23L585.66 265.47L580.54 267.10L575.42 265.47L575.42 262.23ZM186.11 265.47L191.23 267.10L191.23 270.34L186.11 271.97L180.99 270.34L180.99 267.10ZM206.60 265.47L211.72 267.10L211.72 270.34L206.60 271.97L201.48 270.34L201.48 267.10ZM216.84 265.47L221.97 267.10L221.97 270.34L216.84 271.97L211.72 270.34L211.72 267.10ZM237.34 265.47L242.46 267.10L242.46 270.34L237.34 271.97L232.21 270.34L232.21 267.10ZM319.29 265.47L324.42 267.10L324.42 270.34L319.29 271.97L314.17 270.34L314.17 267.10ZM483.22 265.47L488.34 267.10L488.34 270.34L483.22 271.97L478.09 270.34L478.09 267.10ZM503.70 265.47L508.83 267.10L508.83 270.34L503.70 271.97L498.58 270.34L498.58 267.10ZM513.95 265.47L519.07 267.10L519.07 270.34L513.95 271.97L508.83 270.34L508.83 267.10ZM524.19 265.47L529.32 267.10L529.32 270.34L524.19 271.97L519.07 270.34L519.07 267.10ZM565.17 265.47L570.30 267.10L570.30 270.34L565.17 271.97L560.05 270.34L560.05 267.10ZM585.66 265.47L590.79 267.10L590.79 270.34L585.66 271.97L580.54 270.34L580.54 267.10ZM129.76 270.34L134.88 271.97L134.88 275.21L129.76 276.84L124.64 275.21L124.64 271.97ZM180.99 270.34L186.11 271.97L186.11 275.21L180.99 276.84L175.87 275.21L175.87 271.97ZM201.48 270.34L206.60 271.97L206.60 275.21L201.48 276.84L196.35 275.21L196.35 271.97ZM221.97 270.34L227.09 271.97L227.09 275.21L221.97 276.84L216.84 275.21L216.84 271.97ZM467.85 270.34L472.97 271.97L472.97 275.21L467.85 276.84L462.72 275.21L462.72 271.97ZM488.34 270.34L493.46 271.97L493.46 275.21L488.34 276.84L483.21 275.21L483.21 271.97ZM498.58 270.34L503.70 271.97L503.70 275.21L498.58 276.84L493.46 275.21L493.46 271.97ZM508.83 270.34L513.95 271.97L513.95 275.21L508.83 276.84L503.70 275.21L503.70 271.97ZM519.07 270.34L524.19 271.97L524.19 275.21L519.07 276.84L513.95 275.21L513.95 271.97ZM539.56 270.34L544.68 271.97L544.68 275.21L539.56 276.84L534.44 275.21L534.44 271.97ZM549.81 270.34L554.93 271.97L554.93 275.21L549.81 276.84L544.69 275.21L544.69 271.97ZM104.15 275.21L109.27 276.84L109.27 280.08L104.15 281.71L99.03 280.08L99.03 276.84ZM186.11 275.21L191.23 276.84L191.23 280.08L186.11 281.71L180.99 280.08L180.99 276.84ZM196.36 275.21L201.48 276.84L201.48 280.08L196.36 281.71L191.23 280.08L191.23 276.84ZM206.60 275.21L211.72 276.84L211.72 280.08L206.60 281.71L201.48 280.08L201.48 276.84ZM227.09 275.21L232.21 276.84L232.21 280.08L227.09 281.71L221.97 280.08L221.97 276.84ZM421.75 275.21L426.87 276.84L426.87 280.08L421.75 281.71L416.62 280.08L416.62 276.84ZM483.22 275.21L488.34 276.84L488.34 280.08L483.22 281.71L478.09 280.08L478.09 276.84ZM503.70 275.21L508.83 276.84L508.83 280.08L503.70 281.71L498.58 280.08L498.58 276.84ZM513.95 275.21L519.07 276.84L519.07 280.08L513.95 281.71L508.83 280.08L508.83 276.84ZM534.44 275.21L539.56 276.84L539.56 280.08L534.44 281.71L529.32 280.08L529.32 276.84ZM140.01 280.08L145.13 281.71L145.13 284.95L140.01 286.58L134.88 284.95L134.88 281.71ZM170.74 280.08L175.87 281.71L175.87 284.95L170.74 286.58L165.62 284.95L165.62 281.71ZM180.99 280.08L186.11 281.71L186.11 284.95L180.99 286.58L175.87 284.95L175.87 281.71ZM191.23 280.08L196.36 281.71L196.36 284.95L191.23 286.58L186.11 284.95L186.11 281.71ZM201.48 280.08L206.60 281.71L206.60 284.95L201.48 286.58L196.35 284.95L196.35 281.71ZM211.72 280.08L216.84 281.71L216.84 284.95L211.72 286.58L206.60 284.95L206.60 281.71ZM221.97 280.08L227.09 281.71L227.09 284.95L221.97 286.58L216.84 284.95L216.84 281.71ZM232.21 280.08L237.34 281.71L237.34 284.95L232.21 286.58L227.09 284.95L227.09 281.71ZM252.70 280.08L257.82 281.71L257.82 284.95L252.70 286.58L247.58 284.95L247.58 281.71ZM262.95 280.08L268.07 281.71L268.07 284.95L262.95 286.58L257.82 284.95L257.82 281.71ZM293.68 280.08L298.81 281.71L298.81 284.95L293.68 286.58L288.56 284.95L288.56 281.71ZM478.09 280.08L483.21 281.71L483.21 284.95L478.09 286.58L472.97 284.95L472.97 281.71ZM508.83 280.08L513.95 281.71L513.95 284.95L508.83 286.58L503.70 284.95L503.70 281.71ZM560.05 280.08L565.17 281.71L565.17 284.95L560.05 286.58L554.93 284.95L554.93 281.71ZM124.64 284.95L129.76 286.58L129.76 289.82L124.64 291.45L119.52 289.82L119.52 286.58ZM165.62 284.95L170.74 286.58L170.74 289.82L165.62 291.45L160.50 289.82L160.50 286.58ZM196.36 284.95L201.48 286.58L201.48 289.82L196.36 291.45L191.23 289.82L191.23 286.58ZM227.09 284.95L232.21 286.58L232.21 289.82L227.09 291.45L221.97 289.82L221.97 286.58ZM237.34 284.95L242.46 286.58L242.46 289.82L237.34 291.45L232.21 289.82L232.21 286.58ZM257.82 284.95L262.95 286.58L262.95 289.82L257.82 291.45L252.70 289.82L252.70 286.58ZM278.31 284.95L283.44 286.58L283.44 289.82L278.31 291.45L273.19 289.82L273.19 286.58ZM288.56 284.95L293.68 286.58L293.68 289.82L288.56 291.45L283.44 289.82L283.44 286.58ZM462.73 284.95L467.85 286.58L467.85 289.82L462.73 291.45L457.60 289.82L457.60 286.58ZM472.97 284.95L478.09 286.58L478.09 289.82L472.97 291.45L467.85 289.82L467.85 286.58ZM483.22 284.95L488.34 286.58L488.34 289.82L483.22 291.45L478.09 289.82L478.09 286.58ZM493.46 284.95L498.58 286.58L498.58 289.82L493.46 291.45L488.34 289.82L488.34 286.58ZM503.70 284.95L508.83 286.58L508.83 289.82L503.70 291.45L498.58 289.82L498.58 286.58ZM544.68 284.95L549.81 286.58L549.81 289.82L544.68 291.45L539.56 289.82L539.56 286.58ZM180.99 289.82L186.11 291.45L186.11 294.69L180.99 296.32L175.87 294.69L175.87 291.45ZM191.23 289.82L196.36 291.45L196.36 294.69L191.23 296.32L186.11 294.69L186.11 291.45ZM201.48 289.82L206.60 291.45L206.60 294.69L201.48 296.32L196.35 294.69L196.35 291.45ZM221.97 289.82L227.09 291.45L227.09 294.69L221.97 296.32L216.84 294.69L216.84 291.45ZM232.21 289.82L237.34 291.45L237.34 294.69L232.21 296.32L227.09 294.69L227.09 291.45ZM242.46 289.82L247.58 291.45L247.58 294.69L242.46 296.32L237.33 294.69L237.33 291.45ZM283.44 289.82L288.56 291.45L288.56 294.69L283.44 296.32L278.31 294.69L278.31 291.45ZM365.40 289.82L370.52 291.45L370.52 294.69L365.40 296.32L360.28 294.69L360.28 291.45ZM396.13 289.82L401.25 291.45L401.25 294.69L396.13 296.32L391.01 294.69L391.01 291.45ZM447.36 289.82L452.48 291.45L452.48 294.69L447.36 296.32L442.23 294.69L442.23 291.45ZM467.85 289.82L472.97 291.45L472.97 294.69L467.85 296.32L462.72 294.69L462.72 291.45ZM478.09 289.82L483.21 291.45L483.21 294.69L478.09 296.32L472.97 294.69L472.97 291.45ZM488.34 289.82L493.46 291.45L493.46 294.69L488.34 296.32L483.21 294.69L483.21 291.45ZM498.58 289.82L503.70 291.45L503.70 294.69L498.58 296.32L493.46 294.69L493.46 291.45ZM529.32 289.82L534.44 291.45L534.44 294.69L529.32 296.32L524.20 294.69L524.20 291.45ZM539.56 289.82L544.68 291.45L544.68 294.69L539.56 296.32L534.44 294.69L534.44 291.45ZM155.38 294.69L160.50 296.32L160.50 299.56L155.38 301.19L150.25 299.56L150.25 296.32ZM175.87 294.69L180.99 296.32L180.99 299.56L175.87 301.19L170.74 299.56L170.74 296.32ZM196.36 294.69L201.48 296.32L201.48 299.56L196.36 301.19L191.23 299.56L191.23 296.32ZM216.84 294.69L221.97 296.32L221.97 299.56L216.84 301.19L211.72 299.56L211.72 296.32ZM227.09 294.69L232.21 296.32L232.21 299.56L227.09 301.19L221.97 299.56L221.97 296.32ZM237.34 294.69L242.46 296.32L242.46 299.56L237.34 301.19L232.21 299.56L232.21 296.32ZM247.58 294.69L252.70 296.32L252.70 299.56L247.58 301.19L242.46 299.56L242.46 296.32ZM268.07 294.69L273.19 296.32L273.19 299.56L268.07 301.19L262.95 299.56L262.95 296.32ZM288.56 294.69L293.68 296.32L293.68 299.56L288.56 301.19L283.44 299.56L283.44 296.32ZM309.05 294.69L314.17 296.32L314.17 299.56L309.05 301.19L303.93 299.56L303.93 296.32ZM329.54 294.69L334.66 296.32L334.66 299.56L329.54 301.19L324.42 299.56L324.42 296.32ZM360.27 294.69L365.40 296.32L365.40 299.56L360.27 301.19L355.15 299.56L355.15 296.32ZM370.52 294.69L375.64 296.32L375.64 299.56L370.52 301.19L365.40 299.56L365.40 296.32ZM391.01 294.69L396.13 296.32L396.13 299.56L391.01 301.19L385.89 299.56L385.89 296.32ZM411.50 294.69L416.62 296.32L416.62 299.56L411.50 301.19L406.38 299.56L406.38 296.32ZM421.75 294.69L426.87 296.32L426.87 299.56L421.75 301.19L416.62 299.56L416.62 296.32ZM431.99 294.69L437.11 296.32L437.11 299.56L431.99 301.19L426.87 299.56L426.87 296.32ZM462.73 294.69L467.85 296.32L467.85 299.56L462.73 301.19L457.60 299.56L457.60 296.32ZM483.22 294.69L488.34 296.32L488.34 299.56L483.22 301.19L478.09 299.56L478.09 296.32ZM493.46 294.69L498.58 296.32L498.58 299.56L493.46 301.19L488.34 299.56L488.34 296.32ZM524.19 294.69L529.32 296.32L529.32 299.56L524.19 301.19L519.07 299.56L519.07 296.32ZM534.44 294.69L539.56 296.32L539.56 299.56L534.44 301.19L529.32 299.56L529.32 296.32ZM554.93 294.69L560.05 296.32L560.05 299.56L554.93 301.19L549.81 299.56L549.81 296.32ZM211.72 299.56L216.84 301.19L216.84 304.43L211.72 306.06L206.60 304.43L206.60 301.19ZM232.21 299.56L237.34 301.19L237.34 304.43L232.21 306.06L227.09 304.43L227.09 301.19ZM242.46 299.56L247.58 301.19L247.58 304.43L242.46 306.06L237.33 304.43L237.33 301.19ZM262.95 299.56L268.07 301.19L268.07 304.43L262.95 306.06L257.82 304.43L257.82 301.19ZM273.19 299.56L278.31 301.19L278.31 304.43L273.19 306.06L268.07 304.43L268.07 301.19ZM293.68 299.56L298.81 301.19L298.81 304.43L293.68 306.06L288.56 304.43L288.56 301.19ZM324.42 299.56L329.54 301.19L329.54 304.43L324.42 306.06L319.30 304.43L319.30 301.19ZM344.91 299.56L350.03 301.19L350.03 304.43L344.91 306.06L339.79 304.43L339.79 301.19ZM365.40 299.56L370.52 301.19L370.52 304.43L365.40 306.06L360.28 304.43L360.28 301.19ZM375.64 299.56L380.77 301.19L380.77 304.43L375.64 306.06L370.52 304.43L370.52 301.19ZM385.89 299.56L391.01 301.19L391.01 304.43L385.89 306.06L380.76 304.43L380.76 301.19ZM406.38 299.56L411.50 301.19L411.50 304.43L406.38 306.06L401.25 304.43L401.25 301.19ZM416.62 299.56L421.74 301.19L421.74 304.43L416.62 306.06L411.50 304.43L411.50 301.19ZM437.11 299.56L442.23 301.19L442.23 304.43L437.11 306.06L431.99 304.43L431.99 301.19ZM447.36 299.56L452.48 301.19L452.48 304.43L447.36 306.06L442.23 304.43L442.23 301.19ZM457.60 299.56L462.72 301.19L462.72 304.43L457.60 306.06L452.48 304.43L452.48 301.19ZM467.85 299.56L472.97 301.19L472.97 304.43L467.85 306.06L462.72 304.43L462.72 301.19ZM498.58 299.56L503.70 301.19L503.70 304.43L498.58 306.06L493.46 304.43L493.46 301.19ZM508.83 299.56L513.95 301.19L513.95 304.43L508.83 306.06L503.70 304.43L503.70 301.19ZM196.36 304.43L201.48 306.06L201.48 309.30L196.36 310.93L191.23 309.30L191.23 306.06ZM237.34 304.43L242.46 306.06L242.46 309.30L237.34 310.93L232.21 309.30L232.21 306.06ZM247.58 304.43L252.70 306.06L252.70 309.30L247.58 310.93L242.46 309.30L242.46 306.06ZM268.07 304.43L273.19 306.06L273.19 309.30L268.07 310.93L262.95 309.30L262.95 306.06ZM309.05 304.43L314.17 306.06L314.17 309.30L309.05 310.93L303.93 309.30L303.93 306.06ZM329.54 304.43L334.66 306.06L334.66 309.30L329.54 310.93L324.42 309.30L324.42 306.06ZM350.03 304.43L355.15 306.06L355.15 309.30L350.03 310.93L344.91 309.30L344.91 306.06ZM360.27 304.43L365.40 306.06L365.40 309.30L360.27 310.93L355.15 309.30L355.15 306.06ZM370.52 304.43L375.64 306.06L375.64 309.30L370.52 310.93L365.40 309.30L365.40 306.06ZM391.01 304.43L396.13 306.06L396.13 309.30L391.01 310.93L385.89 309.30L385.89 306.06ZM411.50 304.43L416.62 306.06L416.62 309.30L411.50 310.93L406.38 309.30L406.38 306.06ZM431.99 304.43L437.11 306.06L437.11 309.30L431.99 310.93L426.87 309.30L426.87 306.06ZM442.24 304.43L447.36 306.06L447.36 309.30L442.24 310.93L437.11 309.30L437.11 306.06ZM452.48 304.43L457.60 306.06L457.60 309.30L452.48 310.93L447.36 309.30L447.36 306.06ZM462.73 304.43L467.85 306.06L467.85 309.30L462.73 310.93L457.60 309.30L457.60 306.06ZM483.22 304.43L488.34 306.06L488.34 309.30L483.22 310.93L478.09 309.30L478.09 306.06ZM201.48 309.30L206.60 310.93L206.60 314.17L201.48 315.80L196.35 314.17L196.35 310.93ZM252.70 309.30L257.82 310.93L257.82 314.17L252.70 315.80L247.58 314.17L247.58 310.93ZM262.95 309.30L268.07 310.93L268.07 314.17L262.95 315.80L257.82 314.17L257.82 310.93ZM303.93 309.30L309.05 310.93L309.05 314.17L303.93 315.80L298.81 314.17L298.81 310.93ZM314.17 309.30L319.30 310.93L319.30 314.17L314.17 315.80L309.05 314.17L309.05 310.93ZM334.66 309.30L339.79 310.93L339.79 314.17L334.66 315.80L329.54 314.17L329.54 310.93ZM344.91 309.30L350.03 310.93L350.03 314.17L344.91 315.80L339.79 314.17L339.79 310.93ZM355.15 309.30L360.27 310.93L360.27 314.17L355.15 315.80L350.03 314.17L350.03 310.93ZM375.64 309.30L380.77 310.93L380.77 314.17L375.64 315.80L370.52 314.17L370.52 310.93ZM385.89 309.30L391.01 310.93L391.01 314.17L385.89 315.80L380.76 314.17L380.76 310.93ZM406.38 309.30L411.50 310.93L411.50 314.17L406.38 315.80L401.25 314.17L401.25 310.93ZM416.62 309.30L421.74 310.93L421.74 314.17L416.62 315.80L411.50 314.17L411.50 310.93ZM426.87 309.30L431.99 310.93L431.99 314.17L426.87 315.80L421.74 314.17L421.74 310.93ZM437.11 309.30L442.23 310.93L442.23 314.17L437.11 315.80L431.99 314.17L431.99 310.93ZM478.09 309.30L483.21 310.93L483.21 314.17L478.09 315.80L472.97 314.17L472.97 310.93ZM488.34 309.30L493.46 310.93L493.46 314.17L488.34 315.80L483.21 314.17L483.21 310.93ZM508.83 309.30L513.95 310.93L513.95 314.17L508.83 315.80L503.70 314.17L503.70 310.93ZM519.07 309.30L524.19 310.93L524.19 314.17L519.07 315.80L513.95 314.17L513.95 310.93ZM175.87 314.17L180.99 315.80L180.99 319.04L175.87 320.67L170.74 319.04L170.74 315.80ZM237.34 314.17L242.46 315.80L242.46 319.04L237.34 320.67L232.21 319.04L232.21 315.80ZM257.82 314.17L262.95 315.80L262.95 319.04L257.82 320.67L252.70 319.04L252.70 315.80ZM298.80 314.17L303.93 315.80L303.93 319.04L298.80 320.67L293.68 319.04L293.68 315.80ZM309.05 314.17L314.17 315.80L314.17 319.04L309.05 320.67L303.93 319.04L303.93 315.80ZM319.29 314.17L324.42 315.80L324.42 319.04L319.29 320.67L314.17 319.04L314.17 315.80ZM329.54 314.17L334.66 315.80L334.66 319.04L329.54 320.67L324.42 319.04L324.42 315.80ZM339.78 314.17L344.91 315.80L344.91 319.04L339.78 320.67L334.66 319.04L334.66 315.80ZM350.03 314.17L355.15 315.80L355.15 319.04L350.03 320.67L344.91 319.04L344.91 315.80ZM360.27 314.17L365.40 315.80L365.40 319.04L360.27 320.67L355.15 319.04L355.15 315.80ZM370.52 314.17L375.64 315.80L375.64 319.04L370.52 320.67L365.40 319.04L365.40 315.80ZM380.76 314.17L385.89 315.80L385.89 319.04L380.76 320.67L375.64 319.04L375.64 315.80ZM401.25 314.17L406.38 315.80L406.38 319.04L401.25 320.67L396.13 319.04L396.13 315.80ZM421.75 314.17L426.87 315.80L426.87 319.04L421.75 320.67L416.62 319.04L416.62 315.80ZM452.48 314.17L457.60 315.80L457.60 319.04L452.48 320.67L447.36 319.04L447.36 315.80ZM462.73 314.17L467.85 315.80L467.85 319.04L462.73 320.67L457.60 319.04L457.60 315.80ZM472.97 314.17L478.09 315.80L478.09 319.04L472.97 320.67L467.85 319.04L467.85 315.80ZM503.70 314.17L508.83 315.80L508.83 319.04L503.70 320.67L498.58 319.04L498.58 315.80ZM524.19 314.17L529.32 315.80L529.32 319.04L524.19 320.67L519.07 319.04L519.07 315.80ZM534.44 314.17L539.56 315.80L539.56 319.04L534.44 320.67L529.32 319.04L529.32 315.80ZM242.46 319.04L247.58 320.67L247.58 323.91L242.46 325.54L237.33 323.91L237.33 320.67ZM273.19 319.04L278.31 320.67L278.31 323.91L273.19 325.54L268.07 323.91L268.07 320.67ZM283.44 319.04L288.56 320.67L288.56 323.91L283.44 325.54L278.31 323.91L278.31 320.67ZM293.68 319.04L298.81 320.67L298.81 323.91L293.68 325.54L288.56 323.91L288.56 320.67ZM303.93 319.04L309.05 320.67L309.05 323.91L303.93 325.54L298.81 323.91L298.81 320.67ZM324.42 319.04L329.54 320.67L329.54 323.91L324.42 325.54L319.30 323.91L319.30 320.67ZM344.91 319.04L350.03 320.67L350.03 323.91L344.91 325.54L339.79 323.91L339.79 320.67ZM355.15 319.04L360.27 320.67L360.27 323.91L355.15 325.54L350.03 323.91L350.03 320.67ZM365.40 319.04L370.52 320.67L370.52 323.91L365.40 325.54L360.28 323.91L360.28 320.67ZM375.64 319.04L380.77 320.67L380.77 323.91L375.64 325.54L370.52 323.91L370.52 320.67ZM385.89 319.04L391.01 320.67L391.01 323.91L385.89 325.54L380.76 323.91L380.76 320.67ZM406.38 319.04L411.50 320.67L411.50 323.91L406.38 325.54L401.25 323.91L401.25 320.67ZM416.62 319.04L421.74 320.67L421.74 323.91L416.62 325.54L411.50 323.91L411.50 320.67ZM426.87 319.04L431.99 320.67L431.99 323.91L426.87 325.54L421.74 323.91L421.74 320.67ZM437.11 319.04L442.23 320.67L442.23 323.91L437.11 325.54L431.99 323.91L431.99 320.67ZM457.60 319.04L462.72 320.67L462.72 323.91L457.60 325.54L452.48 323.91L452.48 320.67ZM478.09 319.04L483.21 320.67L483.21 323.91L478.09 325.54L472.97 323.91L472.97 320.67ZM498.58 319.04L503.70 320.67L503.70 323.91L498.58 325.54L493.46 323.91L493.46 320.67ZM268.07 323.91L273.19 325.54L273.19 328.78L268.07 330.41L262.95 328.78L262.95 325.54ZM319.29 323.91L324.42 325.54L324.42 328.78L319.29 330.41L314.17 328.78L314.17 325.54ZM329.54 323.91L334.66 325.54L334.66 328.78L329.54 330.41L324.42 328.78L324.42 325.54ZM350.03 323.91L355.15 325.54L355.15 328.78L350.03 330.41L344.91 328.78L344.91 325.54ZM401.25 323.91L406.38 325.54L406.38 328.78L401.25 330.41L396.13 328.78L396.13 325.54ZM411.50 323.91L416.62 325.54L416.62 328.78L411.50 330.41L406.38 328.78L406.38 325.54ZM421.75 323.91L426.87 325.54L426.87 328.78L421.75 330.41L416.62 328.78L416.62 325.54ZM431.99 323.91L437.11 325.54L437.11 328.78L431.99 330.41L426.87 328.78L426.87 325.54ZM472.97 323.91L478.09 325.54L478.09 328.78L472.97 330.41L467.85 328.78L467.85 325.54ZM503.70 323.91L508.83 325.54L508.83 328.78L503.70 330.41L498.58 328.78L498.58 325.54ZM221.97 328.78L227.09 330.41L227.09 333.65L221.97 335.28L216.84 333.65L216.84 330.41ZM252.70 328.78L257.82 330.41L257.82 333.65L252.70 335.28L247.58 333.65L247.58 330.41ZM303.93 328.78L309.05 330.41L309.05 333.65L303.93 335.28L298.81 333.65L298.81 330.41ZM314.17 328.78L319.30 330.41L319.30 333.65L314.17 335.28L309.05 333.65L309.05 330.41ZM334.66 328.78L339.79 330.41L339.79 333.65L334.66 335.28L329.54 333.65L329.54 330.41ZM355.15 328.78L360.27 330.41L360.27 333.65L355.15 335.28L350.03 333.65L350.03 330.41ZM385.89 328.78L391.01 330.41L391.01 333.65L385.89 335.28L380.76 333.65L380.76 330.41ZM396.13 328.78L401.25 330.41L401.25 333.65L396.13 335.28L391.01 333.65L391.01 330.41ZM447.36 328.78L452.48 330.41L452.48 333.65L447.36 335.28L442.23 333.65L442.23 330.41ZM467.85 328.78L472.97 330.41L472.97 333.65L467.85 335.28L462.72 333.65L462.72 330.41ZM488.34 328.78L493.46 330.41L493.46 333.65L488.34 335.28L483.21 333.65L483.21 330.41ZM247.58 333.65L252.70 335.28L252.70 338.52L247.58 340.15L242.46 338.52L242.46 335.28ZM278.31 333.65L283.44 335.28L283.44 338.52L278.31 340.15L273.19 338.52L273.19 335.28ZM298.80 333.65L303.93 335.28L303.93 338.52L298.80 340.15L293.68 338.52L293.68 335.28ZM370.52 333.65L375.64 335.28L375.64 338.52L370.52 340.15L365.40 338.52L365.40 335.28ZM401.25 333.65L406.38 335.28L406.38 338.52L401.25 340.15L396.13 338.52L396.13 335.28ZM431.99 333.65L437.11 335.28L437.11 338.52L431.99 340.15L426.87 338.52L426.87 335.28ZM442.24 333.65L447.36 335.28L447.36 338.52L442.24 340.15L437.11 338.52L437.11 335.28ZM472.97 333.65L478.09 335.28L478.09 338.52L472.97 340.15L467.85 338.52L467.85 335.28ZM242.46 338.52L247.58 340.15L247.58 343.39L242.46 345.02L237.33 343.39L237.33 340.15ZM293.68 338.52L298.81 340.15L298.81 343.39L293.68 345.02L288.56 343.39L288.56 340.15ZM355.15 338.52L360.27 340.15L360.27 343.39L355.15 345.02L350.03 343.39L350.03 340.15ZM416.62 338.52L421.74 340.15L421.74 343.39L416.62 345.02L411.50 343.39L411.50 340.15ZM278.31 343.39L283.44 345.02L283.44 348.26L278.31 349.89L273.19 348.26L273.19 345.02ZM324.42 348.26L329.54 349.89L329.54 353.13L324.42 354.76L319.30 353.13L319.30 349.89ZM375.64 348.26L380.77 349.89L380.77 353.13L375.64 354.76L370.52 353.13L370.52 349.89ZM396.13 348.26L401.25 349.89L401.25 353.13L396.13 354.76L391.01 353.13L391.01 349.89ZM216.84 353.13L221.97 354.76L221.97 358.00L216.84 359.63L211.72 358.00L211.72 354.76ZM350.03 353.13L355.15 354.76L355.15 358.00L350.03 359.63L344.91 358.00L344.91 354.76ZM391.01 353.13L396.13 354.76L396.13 358.00L391.01 359.63L385.89 358.00L385.89 354.76ZM324.42 358.00L329.54 359.63L329.54 362.87L324.42 364.50L319.30 362.87L319.30 359.63ZM334.66 358.00L339.79 359.63L339.79 362.87L334.66 364.50L329.54 362.87L329.54 359.63Z" fill="#3a0044" stroke="#fff" stroke-opacity="0.22" stroke-width="0.45"/>
<path d="M391.01 129.11L396.13 130.74L396.13 133.98L391.01 135.61L385.89 133.98L385.89 130.74ZM472.97 129.11L478.09 130.74L478.09 133.98L472.97 135.61L467.85 133.98L467.85 130.74ZM324.42 133.98L329.54 135.61L329.54 138.85L324.42 140.48L319.30 138.85L319.30 135.61ZM416.62 133.98L421.74 135.61L421.74 138.85L416.62 140.48L411.50 138.85L411.50 135.61ZM350.03 138.85L355.15 140.48L355.15 143.72L350.03 145.35L344.91 143.72L344.91 140.48ZM370.52 138.85L375.64 140.48L375.64 143.72L370.52 145.35L365.40 143.72L365.40 140.48ZM411.50 138.85L416.62 140.48L416.62 143.72L411.50 145.35L406.38 143.72L406.38 140.48ZM416.62 143.72L421.74 145.35L421.74 148.59L416.62 150.22L411.50 148.59L411.50 145.35ZM257.82 148.59L262.95 150.22L262.95 153.46L257.82 155.09L252.70 153.46L252.70 150.22ZM288.56 148.59L293.68 150.22L293.68 153.46L288.56 155.09L283.44 153.46L283.44 150.22ZM324.42 153.46L329.54 155.09L329.54 158.33L324.42 159.96L319.30 158.33L319.30 155.09ZM334.66 153.46L339.79 155.09L339.79 158.33L334.66 159.96L329.54 158.33L329.54 155.09ZM385.89 153.46L391.01 155.09L391.01 158.33L385.89 159.96L380.76 158.33L380.76 155.09ZM437.11 153.46L442.23 155.09L442.23 158.33L437.11 159.96L431.99 158.33L431.99 155.09ZM257.82 158.33L262.95 159.96L262.95 163.20L257.82 164.83L252.70 163.20L252.70 159.96ZM442.24 158.33L447.36 159.96L447.36 163.20L442.24 164.83L437.11 163.20L437.11 159.96ZM452.48 158.33L457.60 159.96L457.60 163.20L452.48 164.83L447.36 163.20L447.36 159.96ZM483.22 158.33L488.34 159.96L488.34 163.20L483.22 164.83L478.09 163.20L478.09 159.96ZM273.19 163.20L278.31 164.83L278.31 168.07L273.19 169.70L268.07 168.07L268.07 164.83ZM375.64 163.20L380.77 164.83L380.77 168.07L375.64 169.70L370.52 168.07L370.52 164.83ZM237.34 168.07L242.46 169.70L242.46 172.94L237.34 174.57L232.21 172.94L232.21 169.70ZM442.24 168.07L447.36 169.70L447.36 172.94L442.24 174.57L437.11 172.94L437.11 169.70ZM513.95 168.07L519.07 169.70L519.07 172.94L513.95 174.57L508.83 172.94L508.83 169.70ZM221.97 172.94L227.09 174.57L227.09 177.81L221.97 179.44L216.84 177.81L216.84 174.57ZM355.15 172.94L360.27 174.57L360.27 177.81L355.15 179.44L350.03 177.81L350.03 174.57ZM508.83 172.94L513.95 174.57L513.95 177.81L508.83 179.44L503.70 177.81L503.70 174.57ZM216.84 177.81L221.97 179.44L221.97 182.68L216.84 184.31L211.72 182.68L211.72 179.44ZM227.09 177.81L232.21 179.44L232.21 182.68L227.09 184.31L221.97 182.68L221.97 179.44ZM329.54 177.81L334.66 179.44L334.66 182.68L329.54 184.31L324.42 182.68L324.42 179.44ZM493.46 177.81L498.58 179.44L498.58 182.68L493.46 184.31L488.34 182.68L488.34 179.44ZM180.99 182.68L186.11 184.31L186.11 187.55L180.99 189.18L175.87 187.55L175.87 184.31ZM221.97 182.68L227.09 184.31L227.09 187.55L221.97 189.18L216.84 187.55L216.84 184.31ZM232.21 182.68L237.34 184.31L237.34 187.55L232.21 189.18L227.09 187.55L227.09 184.31ZM478.09 182.68L483.21 184.31L483.21 187.55L478.09 189.18L472.97 187.55L472.97 184.31ZM498.58 182.68L503.70 184.31L503.70 187.55L498.58 189.18L493.46 187.55L493.46 184.31ZM524.19 187.55L529.32 189.18L529.32 192.42L524.19 194.05L519.07 192.42L519.07 189.18ZM237.34 197.29L242.46 198.92L242.46 202.16L237.34 203.79L232.21 202.16L232.21 198.92ZM247.58 197.29L252.70 198.92L252.70 202.16L247.58 203.79L242.46 202.16L242.46 198.92ZM483.22 197.29L488.34 198.92L488.34 202.16L483.22 203.79L478.09 202.16L478.09 198.92ZM503.70 197.29L508.83 198.92L508.83 202.16L503.70 203.79L498.58 202.16L498.58 198.92ZM513.95 197.29L519.07 198.92L519.07 202.16L513.95 203.79L508.83 202.16L508.83 198.92ZM211.72 202.16L216.84 203.79L216.84 207.03L211.72 208.66L206.60 207.03L206.60 203.79ZM406.38 202.16L411.50 203.79L411.50 207.03L406.38 208.66L401.25 207.03L401.25 203.79ZM498.58 202.16L503.70 203.79L503.70 207.03L498.58 208.66L493.46 207.03L493.46 203.79ZM513.95 207.03L519.07 208.66L519.07 211.90L513.95 213.53L508.83 211.90L508.83 208.66ZM221.97 211.90L227.09 213.53L227.09 216.77L221.97 218.40L216.84 216.77L216.84 213.53ZM232.21 211.90L237.34 213.53L237.34 216.77L232.21 218.40L227.09 216.77L227.09 213.53ZM175.87 216.77L180.99 218.40L180.99 221.64L175.87 223.27L170.74 221.64L170.74 218.40ZM206.60 216.77L211.72 218.40L211.72 221.64L206.60 223.27L201.48 221.64L201.48 218.40ZM513.95 216.77L519.07 218.40L519.07 221.64L513.95 223.27L508.83 221.64L508.83 218.40ZM206.60 226.51L211.72 228.14L211.72 231.38L206.60 233.01L201.48 231.38L201.48 228.14ZM237.34 226.51L242.46 228.14L242.46 231.38L237.34 233.01L232.21 231.38L232.21 228.14ZM211.72 231.38L216.84 233.01L216.84 236.25L211.72 237.88L206.60 236.25L206.60 233.01ZM221.97 231.38L227.09 233.01L227.09 236.25L221.97 237.88L216.84 236.25L216.84 233.01ZM232.21 231.38L237.34 233.01L237.34 236.25L232.21 237.88L227.09 236.25L227.09 233.01ZM498.58 231.38L503.70 233.01L503.70 236.25L498.58 237.88L493.46 236.25L493.46 233.01ZM329.54 236.25L334.66 237.88L334.66 241.12L329.54 242.75L324.42 241.12L324.42 237.88ZM539.56 241.12L544.68 242.75L544.68 245.99L539.56 247.62L534.44 245.99L534.44 242.75ZM175.87 245.99L180.99 247.62L180.99 250.86L175.87 252.49L170.74 250.86L170.74 247.62ZM206.60 245.99L211.72 247.62L211.72 250.86L206.60 252.49L201.48 250.86L201.48 247.62ZM237.34 245.99L242.46 247.62L242.46 250.86L237.34 252.49L232.21 250.86L232.21 247.62ZM227.09 255.73L232.21 257.36L232.21 260.60L227.09 262.23L221.97 260.60L221.97 257.36ZM237.34 255.73L242.46 257.36L242.46 260.60L237.34 262.23L232.21 260.60L232.21 257.36ZM298.80 255.73L303.93 257.36L303.93 260.60L298.80 262.23L293.68 260.60L293.68 257.36ZM503.70 255.73L508.83 257.36L508.83 260.60L503.70 262.23L498.58 260.60L498.58 257.36ZM524.19 255.73L529.32 257.36L529.32 260.60L524.19 262.23L519.07 260.60L519.07 257.36ZM201.48 260.60L206.60 262.23L206.60 265.47L201.48 267.10L196.35 265.47L196.35 262.23ZM242.46 260.60L247.58 262.23L247.58 265.47L242.46 267.10L237.33 265.47L237.33 262.23ZM227.09 265.47L232.21 267.10L232.21 270.34L227.09 271.97L221.97 270.34L221.97 267.10ZM370.52 265.47L375.64 267.10L375.64 270.34L370.52 271.97L365.40 270.34L365.40 267.10ZM442.24 265.47L447.36 267.10L447.36 270.34L442.24 271.97L437.11 270.34L437.11 267.10ZM437.11 270.34L442.23 271.97L442.23 275.21L437.11 276.84L431.99 275.21L431.99 271.97ZM216.84 275.21L221.97 276.84L221.97 280.08L216.84 281.71L211.72 280.08L211.72 276.84ZM237.34 275.21L242.46 276.84L242.46 280.08L237.34 281.71L232.21 280.08L232.21 276.84ZM247.58 275.21L252.70 276.84L252.70 280.08L247.58 281.71L242.46 280.08L242.46 276.84ZM257.82 275.21L262.95 276.84L262.95 280.08L257.82 281.71L252.70 280.08L252.70 276.84ZM360.27 275.21L365.40 276.84L365.40 280.08L360.27 281.71L355.15 280.08L355.15 276.84ZM452.48 275.21L457.60 276.84L457.60 280.08L452.48 281.71L447.36 280.08L447.36 276.84ZM472.97 275.21L478.09 276.84L478.09 280.08L472.97 281.71L467.85 280.08L467.85 276.84ZM273.19 280.08L278.31 281.71L278.31 284.95L273.19 286.58L268.07 284.95L268.07 281.71ZM314.17 280.08L319.30 281.71L319.30 284.95L314.17 286.58L309.05 284.95L309.05 281.71ZM268.07 284.95L273.19 286.58L273.19 289.82L268.07 291.45L262.95 289.82L262.95 286.58ZM391.01 284.95L396.13 286.58L396.13 289.82L391.01 291.45L385.89 289.82L385.89 286.58ZM401.25 284.95L406.38 286.58L406.38 289.82L401.25 291.45L396.13 289.82L396.13 286.58ZM252.70 289.82L257.82 291.45L257.82 294.69L252.70 296.32L247.58 294.69L247.58 291.45ZM262.95 289.82L268.07 291.45L268.07 294.69L262.95 296.32L257.82 294.69L257.82 291.45ZM273.19 289.82L278.31 291.45L278.31 294.69L273.19 296.32L268.07 294.69L268.07 291.45ZM293.68 289.82L298.81 291.45L298.81 294.69L293.68 296.32L288.56 294.69L288.56 291.45ZM334.66 289.82L339.79 291.45L339.79 294.69L334.66 296.32L329.54 294.69L329.54 291.45ZM355.15 289.82L360.27 291.45L360.27 294.69L355.15 296.32L350.03 294.69L350.03 291.45ZM416.62 289.82L421.74 291.45L421.74 294.69L416.62 296.32L411.50 294.69L411.50 291.45ZM457.60 289.82L462.72 291.45L462.72 294.69L457.60 296.32L452.48 294.69L452.48 291.45ZM257.82 294.69L262.95 296.32L262.95 299.56L257.82 301.19L252.70 299.56L252.70 296.32ZM298.80 294.69L303.93 296.32L303.93 299.56L298.80 301.19L293.68 299.56L293.68 296.32ZM319.29 294.69L324.42 296.32L324.42 299.56L319.29 301.19L314.17 299.56L314.17 296.32ZM401.25 294.69L406.38 296.32L406.38 299.56L401.25 301.19L396.13 299.56L396.13 296.32ZM442.24 294.69L447.36 296.32L447.36 299.56L442.24 301.19L437.11 299.56L437.11 296.32ZM283.44 299.56L288.56 301.19L288.56 304.43L283.44 306.06L278.31 304.43L278.31 301.19ZM355.15 299.56L360.27 301.19L360.27 304.43L355.15 306.06L350.03 304.43L350.03 301.19ZM396.13 299.56L401.25 301.19L401.25 304.43L396.13 306.06L391.01 304.43L391.01 301.19ZM278.31 304.43L283.44 306.06L283.44 309.30L278.31 310.93L273.19 309.30L273.19 306.06ZM288.56 304.43L293.68 306.06L293.68 309.30L288.56 310.93L283.44 309.30L283.44 306.06ZM319.29 304.43L324.42 306.06L324.42 309.30L319.29 310.93L314.17 309.30L314.17 306.06ZM339.78 304.43L344.91 306.06L344.91 309.30L339.78 310.93L334.66 309.30L334.66 306.06ZM293.68 309.30L298.81 310.93L298.81 314.17L293.68 315.80L288.56 314.17L288.56 310.93ZM483.22 314.17L488.34 315.80L488.34 319.04L483.22 320.67L478.09 319.04L478.09 315.80Z" fill="#3a0044" stroke="#fff" stroke-opacity="0.22" stroke-width="0.45"/>
<path d="M426.87 133.98L431.99 135.61L431.99 138.85L426.87 140.48L421.74 138.85L421.74 135.61ZM334.66 143.72L339.79 145.35L339.79 148.59L334.66 150.22L329.54 148.59L329.54 145.35ZM344.91 143.72L350.03 145.35L350.03 148.59L344.91 150.22L339.79 148.59L339.79 145.35ZM406.38 143.72L411.50 145.35L411.50 148.59L406.38 150.22L401.25 148.59L401.25 145.35ZM309.05 148.59L314.17 150.22L314.17 153.46L309.05 155.09L303.93 153.46L303.93 150.22ZM319.29 148.59L324.42 150.22L324.42 153.46L319.29 155.09L314.17 153.46L314.17 150.22ZM380.76 148.59L385.89 150.22L385.89 153.46L380.76 155.09L375.64 153.46L375.64 150.22ZM401.25 148.59L406.38 150.22L406.38 153.46L401.25 155.09L396.13 153.46L396.13 150.22ZM442.24 148.59L447.36 150.22L447.36 153.46L442.24 155.09L437.11 153.46L437.11 150.22ZM303.93 153.46L309.05 155.09L309.05 158.33L303.93 159.96L298.81 158.33L298.81 155.09ZM375.64 153.46L380.77 155.09L380.77 158.33L375.64 159.96L370.52 158.33L370.52 155.09ZM426.87 153.46L431.99 155.09L431.99 158.33L426.87 159.96L421.74 158.33L421.74 155.09ZM457.60 153.46L462.72 155.09L462.72 158.33L457.60 159.96L452.48 158.33L452.48 155.09ZM288.56 158.33L293.68 159.96L293.68 163.20L288.56 164.83L283.44 163.20L283.44 159.96ZM298.80 158.33L303.93 159.96L303.93 163.20L298.80 164.83L293.68 163.20L293.68 159.96ZM309.05 158.33L314.17 159.96L314.17 163.20L309.05 164.83L303.93 163.20L303.93 159.96ZM380.76 158.33L385.89 159.96L385.89 163.20L380.76 164.83L375.64 163.20L375.64 159.96ZM262.95 163.20L268.07 164.83L268.07 168.07L262.95 169.70L257.82 168.07L257.82 164.83ZM355.15 163.20L360.27 164.83L360.27 168.07L355.15 169.70L350.03 168.07L350.03 164.83ZM457.60 163.20L462.72 164.83L462.72 168.07L457.60 169.70L452.48 168.07L452.48 164.83ZM257.82 168.07L262.95 169.70L262.95 172.94L257.82 174.57L252.70 172.94L252.70 169.70ZM421.75 168.07L426.87 169.70L426.87 172.94L421.75 174.57L416.62 172.94L416.62 169.70ZM283.44 172.94L288.56 174.57L288.56 177.81L283.44 179.44L278.31 177.81L278.31 174.57ZM437.11 172.94L442.23 174.57L442.23 177.81L437.11 179.44L431.99 177.81L431.99 174.57ZM447.36 172.94L452.48 174.57L452.48 177.81L447.36 179.44L442.23 177.81L442.23 174.57ZM452.48 177.81L457.60 179.44L457.60 182.68L452.48 184.31L447.36 182.68L447.36 179.44ZM283.44 182.68L288.56 184.31L288.56 187.55L283.44 189.18L278.31 187.55L278.31 184.31ZM247.58 187.55L252.70 189.18L252.70 192.42L247.58 194.05L242.46 192.42L242.46 189.18ZM493.46 187.55L498.58 189.18L498.58 192.42L493.46 194.05L488.34 192.42L488.34 189.18ZM201.48 192.42L206.60 194.05L206.60 197.29L201.48 198.92L196.35 197.29L196.35 194.05ZM211.72 192.42L216.84 194.05L216.84 197.29L211.72 198.92L206.60 197.29L206.60 194.05ZM472.97 197.29L478.09 198.92L478.09 202.16L472.97 203.79L467.85 202.16L467.85 198.92ZM493.46 197.29L498.58 198.92L498.58 202.16L493.46 203.79L488.34 202.16L488.34 198.92ZM232.21 202.16L237.34 203.79L237.34 207.03L232.21 208.66L227.09 207.03L227.09 203.79ZM519.07 202.16L524.19 203.79L524.19 207.03L519.07 208.66L513.95 207.03L513.95 203.79ZM549.81 202.16L554.93 203.79L554.93 207.03L549.81 208.66L544.69 207.03L544.69 203.79ZM237.34 207.03L242.46 208.66L242.46 211.90L237.34 213.53L232.21 211.90L232.21 208.66ZM483.22 207.03L488.34 208.66L488.34 211.90L483.22 213.53L478.09 211.90L478.09 208.66ZM196.36 216.77L201.48 218.40L201.48 221.64L196.36 223.27L191.23 221.64L191.23 218.40ZM498.58 221.64L503.70 223.27L503.70 226.51L498.58 228.14L493.46 226.51L493.46 223.27ZM508.83 221.64L513.95 223.27L513.95 226.51L508.83 228.14L503.70 226.51L503.70 223.27ZM519.07 221.64L524.19 223.27L524.19 226.51L519.07 228.14L513.95 226.51L513.95 223.27ZM196.36 226.51L201.48 228.14L201.48 231.38L196.36 233.01L191.23 231.38L191.23 228.14ZM216.84 226.51L221.97 228.14L221.97 231.38L216.84 233.01L211.72 231.38L211.72 228.14ZM227.09 226.51L232.21 228.14L232.21 231.38L227.09 233.01L221.97 231.38L221.97 228.14ZM252.70 231.38L257.82 233.01L257.82 236.25L252.70 237.88L247.58 236.25L247.58 233.01ZM478.09 231.38L483.21 233.01L483.21 236.25L478.09 237.88L472.97 236.25L472.97 233.01ZM488.34 231.38L493.46 233.01L493.46 236.25L488.34 237.88L483.21 236.25L483.21 233.01ZM519.07 241.12L524.19 242.75L524.19 245.99L519.07 247.62L513.95 245.99L513.95 242.75ZM216.84 245.99L221.97 247.62L221.97 250.86L216.84 252.49L211.72 250.86L211.72 247.62ZM227.09 245.99L232.21 247.62L232.21 250.86L227.09 252.49L221.97 250.86L221.97 247.62ZM483.22 245.99L488.34 247.62L488.34 250.86L483.22 252.49L478.09 250.86L478.09 247.62ZM493.46 245.99L498.58 247.62L498.58 250.86L493.46 252.49L488.34 250.86L488.34 247.62ZM252.70 250.86L257.82 252.49L257.82 255.73L252.70 257.36L247.58 255.73L247.58 252.49ZM508.83 250.86L513.95 252.49L513.95 255.73L508.83 257.36L503.70 255.73L503.70 252.49ZM216.84 255.73L221.97 257.36L221.97 260.60L216.84 262.23L211.72 260.60L211.72 257.36ZM278.31 255.73L283.44 257.36L283.44 260.60L278.31 262.23L273.19 260.60L273.19 257.36ZM329.54 255.73L334.66 257.36L334.66 260.60L329.54 262.23L324.42 260.60L324.42 257.36ZM483.22 255.73L488.34 257.36L488.34 260.60L483.22 262.23L478.09 260.60L478.09 257.36ZM211.72 260.60L216.84 262.23L216.84 265.47L211.72 267.10L206.60 265.47L206.60 262.23ZM447.36 260.60L452.48 262.23L452.48 265.47L447.36 267.10L442.23 265.47L442.23 262.23ZM498.58 260.60L503.70 262.23L503.70 265.47L498.58 267.10L493.46 265.47L493.46 262.23ZM257.82 265.47L262.95 267.10L262.95 270.34L257.82 271.97L252.70 270.34L252.70 267.10ZM268.07 265.47L273.19 267.10L273.19 270.34L268.07 271.97L262.95 270.34L262.95 267.10ZM493.46 265.47L498.58 267.10L498.58 270.34L493.46 271.97L488.34 270.34L488.34 267.10ZM242.46 270.34L247.58 271.97L247.58 275.21L242.46 276.84L237.33 275.21L237.33 271.97ZM344.91 270.34L350.03 271.97L350.03 275.21L344.91 276.84L339.79 275.21L339.79 271.97ZM457.60 270.34L462.72 271.97L462.72 275.21L457.60 276.84L452.48 275.21L452.48 271.97ZM431.99 275.21L437.11 276.84L437.11 280.08L431.99 281.71L426.87 280.08L426.87 276.84ZM303.93 280.08L309.05 281.71L309.05 284.95L303.93 286.58L298.81 284.95L298.81 281.71ZM426.87 280.08L431.99 281.71L431.99 284.95L426.87 286.58L421.74 284.95L421.74 281.71ZM457.60 280.08L462.72 281.71L462.72 284.95L457.60 286.58L452.48 284.95L452.48 281.71ZM442.24 284.95L447.36 286.58L447.36 289.82L442.24 291.45L437.11 289.82L437.11 286.58ZM344.91 289.82L350.03 291.45L350.03 294.69L344.91 296.32L339.79 294.69L339.79 291.45ZM426.87 289.82L431.99 291.45L431.99 294.69L426.87 296.32L421.74 294.69L421.74 291.45ZM437.11 289.82L442.23 291.45L442.23 294.69L437.11 296.32L431.99 294.69L431.99 291.45ZM339.78 294.69L344.91 296.32L344.91 299.56L339.78 301.19L334.66 299.56L334.66 296.32ZM303.93 299.56L309.05 301.19L309.05 304.43L303.93 306.06L298.81 304.43L298.81 301.19ZM314.17 299.56L319.30 301.19L319.30 304.43L314.17 306.06L309.05 304.43L309.05 301.19ZM426.87 299.56L431.99 301.19L431.99 304.43L426.87 306.06L421.74 304.43L421.74 301.19ZM401.25 304.43L406.38 306.06L406.38 309.30L401.25 310.93L396.13 309.30L396.13 306.06ZM396.13 309.30L401.25 310.93L401.25 314.17L396.13 315.80L391.01 314.17L391.01 310.93Z" fill="#370a4f" stroke="#fff" stroke-opacity="0.22" stroke-width="0.45"/>
<path d="M298.80 148.59L303.93 150.22L303.93 153.46L298.80 155.09L293.68 153.46L293.68 150.22ZM329.54 148.59L334.66 150.22L334.66 153.46L329.54 155.09L324.42 153.46L324.42 150.22ZM370.52 158.33L375.64 159.96L375.64 163.20L370.52 164.83L365.40 163.20L365.40 159.96ZM401.25 158.33L406.38 159.96L406.38 163.20L401.25 164.83L396.13 163.20L396.13 159.96ZM421.75 158.33L426.87 159.96L426.87 163.20L421.75 164.83L416.62 163.20L416.62 159.96ZM283.44 163.20L288.56 164.83L288.56 168.07L283.44 169.70L278.31 168.07L278.31 164.83ZM324.42 163.20L329.54 164.83L329.54 168.07L324.42 169.70L319.30 168.07L319.30 164.83ZM365.40 163.20L370.52 164.83L370.52 168.07L365.40 169.70L360.28 168.07L360.28 164.83ZM431.99 168.07L437.11 169.70L437.11 172.94L431.99 174.57L426.87 172.94L426.87 169.70ZM483.22 168.07L488.34 169.70L488.34 172.94L483.22 174.57L478.09 172.94L478.09 169.70ZM273.19 172.94L278.31 174.57L278.31 177.81L273.19 179.44L268.07 177.81L268.07 174.57ZM293.68 172.94L298.81 174.57L298.81 177.81L293.68 179.44L288.56 177.81L288.56 174.57ZM247.58 177.81L252.70 179.44L252.70 182.68L247.58 184.31L242.46 182.68L242.46 179.44ZM288.56 177.81L293.68 179.44L293.68 182.68L288.56 184.31L283.44 182.68L283.44 179.44ZM462.73 177.81L467.85 179.44L467.85 182.68L462.73 184.31L457.60 182.68L457.60 179.44ZM242.46 182.68L247.58 184.31L247.58 187.55L242.46 189.18L237.33 187.55L237.33 184.31ZM252.70 182.68L257.82 184.31L257.82 187.55L252.70 189.18L247.58 187.55L247.58 184.31ZM483.22 187.55L488.34 189.18L488.34 192.42L483.22 194.05L478.09 192.42L478.09 189.18ZM462.73 197.29L467.85 198.92L467.85 202.16L462.73 203.79L457.60 202.16L457.60 198.92ZM201.48 202.16L206.60 203.79L206.60 207.03L201.48 208.66L196.35 207.03L196.35 203.79ZM242.46 202.16L247.58 203.79L247.58 207.03L242.46 208.66L237.33 207.03L237.33 203.79ZM211.72 211.90L216.84 213.53L216.84 216.77L211.72 218.40L206.60 216.77L206.60 213.53ZM452.48 216.77L457.60 218.40L457.60 221.64L452.48 223.27L447.36 221.64L447.36 218.40ZM483.22 216.77L488.34 218.40L488.34 221.64L483.22 223.27L478.09 221.64L478.09 218.40ZM503.70 216.77L508.83 218.40L508.83 221.64L503.70 223.27L498.58 221.64L498.58 218.40ZM191.23 221.64L196.36 223.27L196.36 226.51L191.23 228.14L186.11 226.51L186.11 223.27ZM242.46 221.64L247.58 223.27L247.58 226.51L242.46 228.14L237.33 226.51L237.33 223.27ZM478.09 221.64L483.21 223.27L483.21 226.51L478.09 228.14L472.97 226.51L472.97 223.27ZM462.73 226.51L467.85 228.14L467.85 231.38L462.73 233.01L457.60 231.38L457.60 228.14ZM186.11 236.25L191.23 237.88L191.23 241.12L186.11 242.75L180.99 241.12L180.99 237.88ZM493.46 236.25L498.58 237.88L498.58 241.12L493.46 242.75L488.34 241.12L488.34 237.88ZM252.70 241.12L257.82 242.75L257.82 245.99L252.70 247.62L247.58 245.99L247.58 242.75ZM467.85 241.12L472.97 242.75L472.97 245.99L467.85 247.62L462.72 245.99L462.72 242.75ZM232.21 250.86L237.34 252.49L237.34 255.73L232.21 257.36L227.09 255.73L227.09 252.49ZM242.46 250.86L247.58 252.49L247.58 255.73L242.46 257.36L237.33 255.73L237.33 252.49ZM447.36 250.86L452.48 252.49L452.48 255.73L447.36 257.36L442.23 255.73L442.23 252.49ZM247.58 255.73L252.70 257.36L252.70 260.60L247.58 262.23L242.46 260.60L242.46 257.36ZM462.73 255.73L467.85 257.36L467.85 260.60L462.73 262.23L457.60 260.60L457.60 257.36ZM232.21 260.60L237.34 262.23L237.34 265.47L232.21 267.10L227.09 265.47L227.09 262.23ZM457.60 260.60L462.72 262.23L462.72 265.47L457.60 267.10L452.48 265.47L452.48 262.23ZM478.09 260.60L483.21 262.23L483.21 265.47L478.09 267.10L472.97 265.47L472.97 262.23ZM288.56 265.47L293.68 267.10L293.68 270.34L288.56 271.97L283.44 270.34L283.44 267.10ZM472.97 265.47L478.09 267.10L478.09 270.34L472.97 271.97L467.85 270.34L467.85 267.10ZM314.17 270.34L319.30 271.97L319.30 275.21L314.17 276.84L309.05 275.21L309.05 271.97ZM406.38 270.34L411.50 271.97L411.50 275.21L406.38 276.84L401.25 275.21L401.25 271.97ZM278.31 275.21L283.44 276.84L283.44 280.08L278.31 281.71L273.19 280.08L273.19 276.84ZM385.89 280.08L391.01 281.71L391.01 284.95L385.89 286.58L380.76 284.95L380.76 281.71ZM437.11 280.08L442.23 281.71L442.23 284.95L437.11 286.58L431.99 284.95L431.99 281.71ZM298.80 284.95L303.93 286.58L303.93 289.82L298.80 291.45L293.68 289.82L293.68 286.58ZM329.54 284.95L334.66 286.58L334.66 289.82L329.54 291.45L324.42 289.82L324.42 286.58ZM350.03 284.95L355.15 286.58L355.15 289.82L350.03 291.45L344.91 289.82L344.91 286.58ZM411.50 284.95L416.62 286.58L416.62 289.82L411.50 291.45L406.38 289.82L406.38 286.58ZM303.93 289.82L309.05 291.45L309.05 294.69L303.93 296.32L298.81 294.69L298.81 291.45ZM314.17 289.82L319.30 291.45L319.30 294.69L314.17 296.32L309.05 294.69L309.05 291.45ZM324.42 289.82L329.54 291.45L329.54 294.69L324.42 296.32L319.30 294.69L319.30 291.45ZM375.64 289.82L380.77 291.45L380.77 294.69L375.64 296.32L370.52 294.69L370.52 291.45ZM350.03 294.69L355.15 296.32L355.15 299.56L350.03 301.19L344.91 299.56L344.91 296.32ZM452.48 294.69L457.60 296.32L457.60 299.56L452.48 301.19L447.36 299.56L447.36 296.32ZM324.42 309.30L329.54 310.93L329.54 314.17L324.42 315.80L319.30 314.17L319.30 310.93ZM365.40 309.30L370.52 310.93L370.52 314.17L365.40 315.80L360.28 314.17L360.28 310.93Z" fill="#351459" stroke="#fff" stroke-opacity="0.22" stroke-width="0.45"/>
<path d="M324.42 143.72L329.54 145.35L329.54 148.59L324.42 150.22L319.30 148.59L319.30 145.35ZM416.62 153.46L421.74 155.09L421.74 158.33L416.62 159.96L411.50 158.33L411.50 155.09ZM360.27 158.33L365.40 159.96L365.40 163.20L360.27 164.83L355.15 163.20L355.15 159.96ZM391.01 158.33L396.13 159.96L396.13 163.20L391.01 164.83L385.89 163.20L385.89 159.96ZM293.68 163.20L298.81 164.83L298.81 168.07L293.68 169.70L288.56 168.07L288.56 164.83ZM268.07 168.07L273.19 169.70L273.19 172.94L268.07 174.57L262.95 172.94L262.95 169.70ZM278.31 168.07L283.44 169.70L283.44 172.94L278.31 174.57L273.19 172.94L273.19 169.70ZM309.05 168.07L314.17 169.70L314.17 172.94L309.05 174.57L303.93 172.94L303.93 169.70ZM319.29 168.07L324.42 169.70L324.42 172.94L319.29 174.57L314.17 172.94L314.17 169.70ZM329.54 168.07L334.66 169.70L334.66 172.94L329.54 174.57L324.42 172.94L324.42 169.70ZM462.73 168.07L467.85 169.70L467.85 172.94L462.73 174.57L457.60 172.94L457.60 169.70ZM242.46 172.94L247.58 174.57L247.58 177.81L242.46 179.44L237.33 177.81L237.33 174.57ZM252.70 172.94L257.82 174.57L257.82 177.81L252.70 179.44L247.58 177.81L247.58 174.57ZM262.95 172.94L268.07 174.57L268.07 177.81L262.95 179.44L257.82 177.81L257.82 174.57ZM268.07 177.81L273.19 179.44L273.19 182.68L268.07 184.31L262.95 182.68L262.95 179.44ZM278.31 177.81L283.44 179.44L283.44 182.68L278.31 184.31L273.19 182.68L273.19 179.44ZM421.75 177.81L426.87 179.44L426.87 182.68L421.75 184.31L416.62 182.68L416.62 179.44ZM314.17 182.68L319.30 184.31L319.30 187.55L314.17 189.18L309.05 187.55L309.05 184.31ZM324.42 182.68L329.54 184.31L329.54 187.55L324.42 189.18L319.30 187.55L319.30 184.31ZM365.40 182.68L370.52 184.31L370.52 187.55L365.40 189.18L360.28 187.55L360.28 184.31ZM426.87 182.68L431.99 184.31L431.99 187.55L426.87 189.18L421.74 187.55L421.74 184.31ZM457.60 182.68L462.72 184.31L462.72 187.55L457.60 189.18L452.48 187.55L452.48 184.31ZM462.73 187.55L467.85 189.18L467.85 192.42L462.73 194.05L457.60 192.42L457.60 189.18ZM242.46 192.42L247.58 194.05L247.58 197.29L242.46 198.92L237.33 197.29L237.33 194.05ZM283.44 192.42L288.56 194.05L288.56 197.29L283.44 198.92L278.31 197.29L278.31 194.05ZM467.85 192.42L472.97 194.05L472.97 197.29L467.85 198.92L462.72 197.29L462.72 194.05ZM493.46 207.03L498.58 208.66L498.58 211.90L493.46 213.53L488.34 211.90L488.34 208.66ZM273.19 211.90L278.31 213.53L278.31 216.77L273.19 218.40L268.07 216.77L268.07 213.53ZM216.84 216.77L221.97 218.40L221.97 221.64L216.84 223.27L211.72 221.64L211.72 218.40ZM237.34 216.77L242.46 218.40L242.46 221.64L237.34 223.27L232.21 221.64L232.21 218.40ZM493.46 226.51L498.58 228.14L498.58 231.38L493.46 233.01L488.34 231.38L488.34 228.14ZM503.70 226.51L508.83 228.14L508.83 231.38L503.70 233.01L498.58 231.38L498.58 228.14ZM242.46 231.38L247.58 233.01L247.58 236.25L242.46 237.88L237.33 236.25L237.33 233.01ZM519.07 231.38L524.19 233.01L524.19 236.25L519.07 237.88L513.95 236.25L513.95 233.01ZM580.54 231.38L585.66 233.01L585.66 236.25L580.54 237.88L575.42 236.25L575.42 233.01ZM247.58 236.25L252.70 237.88L252.70 241.12L247.58 242.75L242.46 241.12L242.46 237.88ZM262.95 241.12L268.07 242.75L268.07 245.99L262.95 247.62L257.82 245.99L257.82 242.75ZM488.34 241.12L493.46 242.75L493.46 245.99L488.34 247.62L483.21 245.99L483.21 242.75ZM498.58 241.12L503.70 242.75L503.70 245.99L498.58 247.62L493.46 245.99L493.46 242.75ZM288.56 245.99L293.68 247.62L293.68 250.86L288.56 252.49L283.44 250.86L283.44 247.62ZM457.60 250.86L462.72 252.49L462.72 255.73L457.60 257.36L452.48 255.73L452.48 252.49ZM252.70 260.60L257.82 262.23L257.82 265.47L252.70 267.10L247.58 265.47L247.58 262.23ZM303.93 260.60L309.05 262.23L309.05 265.47L303.93 267.10L298.81 265.47L298.81 262.23ZM247.58 265.47L252.70 267.10L252.70 270.34L247.58 271.97L242.46 270.34L242.46 267.10ZM452.48 265.47L457.60 267.10L457.60 270.34L452.48 271.97L447.36 270.34L447.36 267.10ZM232.21 270.34L237.34 271.97L237.34 275.21L232.21 276.84L227.09 275.21L227.09 271.97ZM252.70 270.34L257.82 271.97L257.82 275.21L252.70 276.84L247.58 275.21L247.58 271.97ZM262.95 270.34L268.07 271.97L268.07 275.21L262.95 276.84L257.82 275.21L257.82 271.97ZM416.62 270.34L421.74 271.97L421.74 275.21L416.62 276.84L411.50 275.21L411.50 271.97ZM447.36 270.34L452.48 271.97L452.48 275.21L447.36 276.84L442.23 275.21L442.23 271.97ZM329.54 275.21L334.66 276.84L334.66 280.08L329.54 281.71L324.42 280.08L324.42 276.84ZM462.73 275.21L467.85 276.84L467.85 280.08L462.73 281.71L457.60 280.08L457.60 276.84ZM324.42 280.08L329.54 281.71L329.54 284.95L324.42 286.58L319.30 284.95L319.30 281.71ZM375.64 280.08L380.77 281.71L380.77 284.95L375.64 286.58L370.52 284.95L370.52 281.71ZM416.62 280.08L421.74 281.71L421.74 284.95L416.62 286.58L411.50 284.95L411.50 281.71ZM467.85 280.08L472.97 281.71L472.97 284.95L467.85 286.58L462.72 284.95L462.72 281.71ZM309.05 284.95L314.17 286.58L314.17 289.82L309.05 291.45L303.93 289.82L303.93 286.58ZM360.27 284.95L365.40 286.58L365.40 289.82L360.27 291.45L355.15 289.82L355.15 286.58ZM421.75 284.95L426.87 286.58L426.87 289.82L421.75 291.45L416.62 289.82L416.62 286.58ZM431.99 284.95L437.11 286.58L437.11 289.82L431.99 291.45L426.87 289.82L426.87 286.58ZM278.31 294.69L283.44 296.32L283.44 299.56L278.31 301.19L273.19 299.56L273.19 296.32ZM380.76 294.69L385.89 296.32L385.89 299.56L380.76 301.19L375.64 299.56L375.64 296.32Z" fill="#321e64" stroke="#fff" stroke-opacity="0.22" stroke-width="0.45"/>
<path d="M344.91 153.46L350.03 155.09L350.03 158.33L344.91 159.96L339.79 158.33L339.79 155.09ZM355.15 153.46L360.27 155.09L360.27 158.33L355.15 159.96L350.03 158.33L350.03 155.09ZM365.40 153.46L370.52 155.09L370.52 158.33L365.40 159.96L360.28 158.33L360.28 155.09ZM411.50 158.33L416.62 159.96L416.62 163.20L411.50 164.83L406.38 163.20L406.38 159.96ZM396.13 163.20L401.25 164.83L401.25 168.07L396.13 169.70L391.01 168.07L391.01 164.83ZM426.87 163.20L431.99 164.83L431.99 168.07L426.87 169.70L421.74 168.07L421.74 164.83ZM437.11 163.20L442.23 164.83L442.23 168.07L437.11 169.70L431.99 168.07L431.99 164.83ZM447.36 163.20L452.48 164.83L452.48 168.07L447.36 169.70L442.23 168.07L442.23 164.83ZM288.56 168.07L293.68 169.70L293.68 172.94L288.56 174.57L283.44 172.94L283.44 169.70ZM298.80 168.07L303.93 169.70L303.93 172.94L298.80 174.57L293.68 172.94L293.68 169.70ZM339.78 168.07L344.91 169.70L344.91 172.94L339.78 174.57L334.66 172.94L334.66 169.70ZM360.27 168.07L365.40 169.70L365.40 172.94L360.27 174.57L355.15 172.94L355.15 169.70ZM401.25 168.07L406.38 169.70L406.38 172.94L401.25 174.57L396.13 172.94L396.13 169.70ZM426.87 172.94L431.99 174.57L431.99 177.81L426.87 179.44L421.74 177.81L421.74 174.57ZM467.85 172.94L472.97 174.57L472.97 177.81L467.85 179.44L462.72 177.81L462.72 174.57ZM257.82 177.81L262.95 179.44L262.95 182.68L257.82 184.31L252.70 182.68L252.70 179.44ZM380.76 177.81L385.89 179.44L385.89 182.68L380.76 184.31L375.64 182.68L375.64 179.44ZM442.24 177.81L447.36 179.44L447.36 182.68L442.24 184.31L437.11 182.68L437.11 179.44ZM396.13 182.68L401.25 184.31L401.25 187.55L396.13 189.18L391.01 187.55L391.01 184.31ZM339.78 187.55L344.91 189.18L344.91 192.42L339.78 194.05L334.66 192.42L334.66 189.18ZM350.03 187.55L355.15 189.18L355.15 192.42L350.03 194.05L344.91 192.42L344.91 189.18ZM442.24 187.55L447.36 189.18L447.36 192.42L442.24 194.05L437.11 192.42L437.11 189.18ZM252.70 192.42L257.82 194.05L257.82 197.29L252.70 198.92L247.58 197.29L247.58 194.05ZM396.13 192.42L401.25 194.05L401.25 197.29L396.13 198.92L391.01 197.29L391.01 194.05ZM252.70 202.16L257.82 203.79L257.82 207.03L252.70 208.66L247.58 207.03L247.58 203.79ZM478.09 202.16L483.21 203.79L483.21 207.03L478.09 208.66L472.97 207.03L472.97 203.79ZM488.34 202.16L493.46 203.79L493.46 207.03L488.34 208.66L483.21 207.03L483.21 203.79ZM216.84 207.03L221.97 208.66L221.97 211.90L216.84 213.53L211.72 211.90L211.72 208.66ZM242.46 211.90L247.58 213.53L247.58 216.77L242.46 218.40L237.33 216.77L237.33 213.53ZM262.95 211.90L268.07 213.53L268.07 216.77L262.95 218.40L257.82 216.77L257.82 213.53ZM227.09 216.77L232.21 218.40L232.21 221.64L227.09 223.27L221.97 221.64L221.97 218.40ZM472.97 216.77L478.09 218.40L478.09 221.64L472.97 223.27L467.85 221.64L467.85 218.40ZM493.46 216.77L498.58 218.40L498.58 221.64L493.46 223.27L488.34 221.64L488.34 218.40ZM452.48 226.51L457.60 228.14L457.60 231.38L452.48 233.01L447.36 231.38L447.36 228.14ZM483.22 226.51L488.34 228.14L488.34 231.38L483.22 233.01L478.09 231.38L478.09 228.14ZM227.09 236.25L232.21 237.88L232.21 241.12L227.09 242.75L221.97 241.12L221.97 237.88ZM237.34 236.25L242.46 237.88L242.46 241.12L237.34 242.75L232.21 241.12L232.21 237.88ZM268.07 236.25L273.19 237.88L273.19 241.12L268.07 242.75L262.95 241.12L262.95 237.88ZM273.19 241.12L278.31 242.75L278.31 245.99L273.19 247.62L268.07 245.99L268.07 242.75ZM293.68 241.12L298.81 242.75L298.81 245.99L293.68 247.62L288.56 245.99L288.56 242.75ZM303.93 250.86L309.05 252.49L309.05 255.73L303.93 257.36L298.81 255.73L298.81 252.49ZM426.87 250.86L431.99 252.49L431.99 255.73L426.87 257.36L421.74 255.73L421.74 252.49ZM431.99 255.73L437.11 257.36L437.11 260.60L431.99 262.23L426.87 260.60L426.87 257.36ZM298.80 265.47L303.93 267.10L303.93 270.34L298.80 271.97L293.68 270.34L293.68 267.10ZM293.68 270.34L298.81 271.97L298.81 275.21L293.68 276.84L288.56 275.21L288.56 271.97ZM324.42 270.34L329.54 271.97L329.54 275.21L324.42 276.84L319.30 275.21L319.30 271.97ZM396.13 270.34L401.25 271.97L401.25 275.21L396.13 276.84L391.01 275.21L391.01 271.97ZM426.87 270.34L431.99 271.97L431.99 275.21L426.87 276.84L421.74 275.21L421.74 271.97ZM268.07 275.21L273.19 276.84L273.19 280.08L268.07 281.71L262.95 280.08L262.95 276.84ZM350.03 275.21L355.15 276.84L355.15 280.08L350.03 281.71L344.91 280.08L344.91 276.84ZM334.66 280.08L339.79 281.71L339.79 284.95L334.66 286.58L329.54 284.95L329.54 281.71ZM344.91 280.08L350.03 281.71L350.03 284.95L344.91 286.58L339.79 284.95L339.79 281.71ZM319.29 284.95L324.42 286.58L324.42 289.82L319.29 291.45L314.17 289.82L314.17 286.58ZM339.78 284.95L344.91 286.58L344.91 289.82L339.78 291.45L334.66 289.82L334.66 286.58ZM370.52 284.95L375.64 286.58L375.64 289.82L370.52 291.45L365.40 289.82L365.40 286.58ZM380.76 284.95L385.89 286.58L385.89 289.82L380.76 291.45L375.64 289.82L375.64 286.58Z" fill="#2b286c" stroke="#fff" stroke-opacity="0.22" stroke-width="0.45"/>
<path d="M339.78 148.59L344.91 150.22L344.91 153.46L339.78 155.09L334.66 153.46L334.66 150.22ZM421.75 148.59L426.87 150.22L426.87 153.46L421.75 155.09L416.62 153.46L416.62 150.22ZM329.54 158.33L334.66 159.96L334.66 163.20L329.54 164.83L324.42 163.20L324.42 159.96ZM339.78 158.33L344.91 159.96L344.91 163.20L339.78 164.83L334.66 163.20L334.66 159.96ZM303.93 163.20L309.05 164.83L309.05 168.07L303.93 169.70L298.81 168.07L298.81 164.83ZM314.17 163.20L319.30 164.83L319.30 168.07L314.17 169.70L309.05 168.07L309.05 164.83ZM406.38 163.20L411.50 164.83L411.50 168.07L406.38 169.70L401.25 168.07L401.25 164.83ZM380.76 168.07L385.89 169.70L385.89 172.94L380.76 174.57L375.64 172.94L375.64 169.70ZM391.01 168.07L396.13 169.70L396.13 172.94L391.01 174.57L385.89 172.94L385.89 169.70ZM411.50 168.07L416.62 169.70L416.62 172.94L411.50 174.57L406.38 172.94L406.38 169.70ZM314.17 172.94L319.30 174.57L319.30 177.81L314.17 179.44L309.05 177.81L309.05 174.57ZM406.38 172.94L411.50 174.57L411.50 177.81L406.38 179.44L401.25 177.81L401.25 174.57ZM298.80 177.81L303.93 179.44L303.93 182.68L298.80 184.31L293.68 182.68L293.68 179.44ZM262.95 182.68L268.07 184.31L268.07 187.55L262.95 189.18L257.82 187.55L257.82 184.31ZM273.19 182.68L278.31 184.31L278.31 187.55L273.19 189.18L268.07 187.55L268.07 184.31ZM406.38 182.68L411.50 184.31L411.50 187.55L406.38 189.18L401.25 187.55L401.25 184.31ZM437.11 182.68L442.23 184.31L442.23 187.55L437.11 189.18L431.99 187.55L431.99 184.31ZM447.36 182.68L452.48 184.31L452.48 187.55L447.36 189.18L442.23 187.55L442.23 184.31ZM237.34 187.55L242.46 189.18L242.46 192.42L237.34 194.05L232.21 192.42L232.21 189.18ZM268.07 187.55L273.19 189.18L273.19 192.42L268.07 194.05L262.95 192.42L262.95 189.18ZM401.25 187.55L406.38 189.18L406.38 192.42L401.25 194.05L396.13 192.42L396.13 189.18ZM411.50 187.55L416.62 189.18L416.62 192.42L411.50 194.05L406.38 192.42L406.38 189.18ZM431.99 187.55L437.11 189.18L437.11 192.42L431.99 194.05L426.87 192.42L426.87 189.18ZM232.21 192.42L237.34 194.05L237.34 197.29L232.21 198.92L227.09 197.29L227.09 194.05ZM216.84 197.29L221.97 198.92L221.97 202.16L216.84 203.79L211.72 202.16L211.72 198.92ZM257.82 197.29L262.95 198.92L262.95 202.16L257.82 203.79L252.70 202.16L252.70 198.92ZM442.24 197.29L447.36 198.92L447.36 202.16L442.24 203.79L437.11 202.16L437.11 198.92ZM447.36 202.16L452.48 203.79L452.48 207.03L447.36 208.66L442.23 207.03L442.23 203.79ZM467.85 202.16L472.97 203.79L472.97 207.03L467.85 208.66L462.72 207.03L462.72 203.79ZM232.21 221.64L237.34 223.27L237.34 226.51L232.21 228.14L227.09 226.51L227.09 223.27ZM467.85 221.64L472.97 223.27L472.97 226.51L467.85 228.14L462.72 226.51L462.72 223.27ZM293.68 231.38L298.81 233.01L298.81 236.25L293.68 237.88L288.56 236.25L288.56 233.01ZM447.36 231.38L452.48 233.01L452.48 236.25L447.36 237.88L442.23 236.25L442.23 233.01ZM472.97 236.25L478.09 237.88L478.09 241.12L472.97 242.75L467.85 241.12L467.85 237.88ZM242.46 241.12L247.58 242.75L247.58 245.99L242.46 247.62L237.33 245.99L237.33 242.75ZM478.09 241.12L483.21 242.75L483.21 245.99L478.09 247.62L472.97 245.99L472.97 242.75ZM365.40 250.86L370.52 252.49L370.52 255.73L365.40 257.36L360.28 255.73L360.28 252.49ZM488.34 250.86L493.46 252.49L493.46 255.73L488.34 257.36L483.21 255.73L483.21 252.49ZM380.76 255.73L385.89 257.36L385.89 260.60L380.76 262.23L375.64 260.60L375.64 257.36ZM411.50 255.73L416.62 257.36L416.62 260.60L411.50 262.23L406.38 260.60L406.38 257.36ZM452.48 255.73L457.60 257.36L457.60 260.60L452.48 262.23L447.36 260.60L447.36 257.36ZM314.17 260.60L319.30 262.23L319.30 265.47L314.17 267.10L309.05 265.47L309.05 262.23ZM416.62 260.60L421.74 262.23L421.74 265.47L416.62 267.10L411.50 265.47L411.50 262.23ZM339.78 265.47L344.91 267.10L344.91 270.34L339.78 271.97L334.66 270.34L334.66 267.10ZM360.27 265.47L365.40 267.10L365.40 270.34L360.27 271.97L355.15 270.34L355.15 267.10ZM401.25 265.47L406.38 267.10L406.38 270.34L401.25 271.97L396.13 270.34L396.13 267.10ZM431.99 265.47L437.11 267.10L437.11 270.34L431.99 271.97L426.87 270.34L426.87 267.10ZM462.73 265.47L467.85 267.10L467.85 270.34L462.73 271.97L457.60 270.34L457.60 267.10ZM273.19 270.34L278.31 271.97L278.31 275.21L273.19 276.84L268.07 275.21L268.07 271.97ZM375.64 270.34L380.77 271.97L380.77 275.21L375.64 276.84L370.52 275.21L370.52 271.97ZM288.56 275.21L293.68 276.84L293.68 280.08L288.56 281.71L283.44 280.08L283.44 276.84ZM309.05 275.21L314.17 276.84L314.17 280.08L309.05 281.71L303.93 280.08L303.93 276.84ZM401.25 275.21L406.38 276.84L406.38 280.08L401.25 281.71L396.13 280.08L396.13 276.84ZM283.44 280.08L288.56 281.71L288.56 284.95L283.44 286.58L278.31 284.95L278.31 281.71ZM396.13 280.08L401.25 281.71L401.25 284.95L396.13 286.58L391.01 284.95L391.01 281.71ZM406.38 280.08L411.50 281.71L411.50 284.95L406.38 286.58L401.25 284.95L401.25 281.71ZM447.36 280.08L452.48 281.71L452.48 284.95L447.36 286.58L442.23 284.95L442.23 281.71ZM385.89 289.82L391.01 291.45L391.01 294.69L385.89 296.32L380.76 294.69L380.76 291.45Z" fill="#253275" stroke="#fff" stroke-opacity="0.22" stroke-width="0.45"/>
<path d="M431.99 158.33L437.11 159.96L437.11 163.20L431.99 164.83L426.87 163.20L426.87 159.96ZM334.66 163.20L339.79 164.83L339.79 168.07L334.66 169.70L329.54 168.07L329.54 164.83ZM385.89 163.20L391.01 164.83L391.01 168.07L385.89 169.70L380.76 168.07L380.76 164.83ZM416.62 163.20L421.74 164.83L421.74 168.07L416.62 169.70L411.50 168.07L411.50 164.83ZM324.42 172.94L329.54 174.57L329.54 177.81L324.42 179.44L319.30 177.81L319.30 174.57ZM365.40 172.94L370.52 174.57L370.52 177.81L365.40 179.44L360.28 177.81L360.28 174.57ZM385.89 172.94L391.01 174.57L391.01 177.81L385.89 179.44L380.76 177.81L380.76 174.57ZM396.13 172.94L401.25 174.57L401.25 177.81L396.13 179.44L391.01 177.81L391.01 174.57ZM319.29 177.81L324.42 179.44L324.42 182.68L319.29 184.31L314.17 182.68L314.17 179.44ZM303.93 182.68L309.05 184.31L309.05 187.55L303.93 189.18L298.81 187.55L298.81 184.31ZM344.91 182.68L350.03 184.31L350.03 187.55L344.91 189.18L339.79 187.55L339.79 184.31ZM355.15 182.68L360.27 184.31L360.27 187.55L355.15 189.18L350.03 187.55L350.03 184.31ZM278.31 187.55L283.44 189.18L283.44 192.42L278.31 194.05L273.19 192.42L273.19 189.18ZM452.48 187.55L457.60 189.18L457.60 192.42L452.48 194.05L447.36 192.42L447.36 189.18ZM472.97 187.55L478.09 189.18L478.09 192.42L472.97 194.05L467.85 192.42L467.85 189.18ZM273.19 192.42L278.31 194.05L278.31 197.29L273.19 198.92L268.07 197.29L268.07 194.05ZM452.48 197.29L457.60 198.92L457.60 202.16L452.48 203.79L447.36 202.16L447.36 198.92ZM283.44 202.16L288.56 203.79L288.56 207.03L283.44 208.66L278.31 207.03L278.31 203.79ZM303.93 202.16L309.05 203.79L309.05 207.03L303.93 208.66L298.81 207.03L298.81 203.79ZM457.60 202.16L462.72 203.79L462.72 207.03L457.60 208.66L452.48 207.03L452.48 203.79ZM257.82 207.03L262.95 208.66L262.95 211.90L257.82 213.53L252.70 211.90L252.70 208.66ZM462.73 207.03L467.85 208.66L467.85 211.90L462.73 213.53L457.60 211.90L457.60 208.66ZM447.36 211.90L452.48 213.53L452.48 216.77L447.36 218.40L442.23 216.77L442.23 213.53ZM247.58 216.77L252.70 218.40L252.70 221.64L247.58 223.27L242.46 221.64L242.46 218.40ZM462.73 216.77L467.85 218.40L467.85 221.64L462.73 223.27L457.60 221.64L457.60 218.40ZM252.70 221.64L257.82 223.27L257.82 226.51L252.70 228.14L247.58 226.51L247.58 223.27ZM283.44 221.64L288.56 223.27L288.56 226.51L283.44 228.14L278.31 226.51L278.31 223.27ZM247.58 226.51L252.70 228.14L252.70 231.38L247.58 233.01L242.46 231.38L242.46 228.14ZM391.01 226.51L396.13 228.14L396.13 231.38L391.01 233.01L385.89 231.38L385.89 228.14ZM283.44 231.38L288.56 233.01L288.56 236.25L283.44 237.88L278.31 236.25L278.31 233.01ZM257.82 236.25L262.95 237.88L262.95 241.12L257.82 242.75L252.70 241.12L252.70 237.88ZM452.48 236.25L457.60 237.88L457.60 241.12L452.48 242.75L447.36 241.12L447.36 237.88ZM462.73 236.25L467.85 237.88L467.85 241.12L462.73 242.75L457.60 241.12L457.60 237.88ZM232.21 241.12L237.34 242.75L237.34 245.99L232.21 247.62L227.09 245.99L227.09 242.75ZM283.44 241.12L288.56 242.75L288.56 245.99L283.44 247.62L278.31 245.99L278.31 242.75ZM457.60 241.12L462.72 242.75L462.72 245.99L457.60 247.62L452.48 245.99L452.48 242.75ZM257.82 245.99L262.95 247.62L262.95 250.86L257.82 252.49L252.70 250.86L252.70 247.62ZM257.82 255.73L262.95 257.36L262.95 260.60L257.82 262.23L252.70 260.60L252.70 257.36ZM288.56 255.73L293.68 257.36L293.68 260.60L288.56 262.23L283.44 260.60L283.44 257.36ZM283.44 260.60L288.56 262.23L288.56 265.47L283.44 267.10L278.31 265.47L278.31 262.23ZM437.11 260.60L442.23 262.23L442.23 265.47L437.11 267.10L431.99 265.47L431.99 262.23ZM467.85 260.60L472.97 262.23L472.97 265.47L467.85 267.10L462.72 265.47L462.72 262.23ZM278.31 265.47L283.44 267.10L283.44 270.34L278.31 271.97L273.19 270.34L273.19 267.10ZM283.44 270.34L288.56 271.97L288.56 275.21L283.44 276.84L278.31 275.21L278.31 271.97ZM334.66 270.34L339.79 271.97L339.79 275.21L334.66 276.84L329.54 275.21L329.54 271.97ZM298.80 275.21L303.93 276.84L303.93 280.08L298.80 281.71L293.68 280.08L293.68 276.84ZM319.29 275.21L324.42 276.84L324.42 280.08L319.29 281.71L314.17 280.08L314.17 276.84ZM370.52 275.21L375.64 276.84L375.64 280.08L370.52 281.71L365.40 280.08L365.40 276.84ZM442.24 275.21L447.36 276.84L447.36 280.08L442.24 281.71L437.11 280.08L437.11 276.84Z" fill="#1e3c7d" stroke="#fff" stroke-opacity="0.22" stroke-width="0.45"/>
<path d="M365.40 143.72L370.52 145.35L370.52 148.59L365.40 150.22L360.28 148.59L360.28 145.35ZM375.64 172.94L380.77 174.57L380.77 177.81L375.64 179.44L370.52 177.81L370.52 174.57ZM416.62 172.94L421.74 174.57L421.74 177.81L416.62 179.44L411.50 177.81L411.50 174.57ZM360.27 177.81L365.40 179.44L365.40 182.68L360.27 184.31L355.15 182.68L355.15 179.44ZM401.25 177.81L406.38 179.44L406.38 182.68L401.25 184.31L396.13 182.68L396.13 179.44ZM421.75 187.55L426.87 189.18L426.87 192.42L421.75 194.05L416.62 192.42L416.62 189.18ZM334.66 192.42L339.79 194.05L339.79 197.29L334.66 198.92L329.54 197.29L329.54 194.05ZM437.11 192.42L442.23 194.05L442.23 197.29L437.11 198.92L431.99 197.29L431.99 194.05ZM457.60 192.42L462.72 194.05L462.72 197.29L457.60 198.92L452.48 197.29L452.48 194.05ZM227.09 207.03L232.21 208.66L232.21 211.90L227.09 213.53L221.97 211.90L221.97 208.66ZM283.44 211.90L288.56 213.53L288.56 216.77L283.44 218.40L278.31 216.77L278.31 213.53ZM467.85 211.90L472.97 213.53L472.97 216.77L467.85 218.40L462.72 216.77L462.72 213.53ZM426.87 221.64L431.99 223.27L431.99 226.51L426.87 228.14L421.74 226.51L421.74 223.27ZM447.36 221.64L452.48 223.27L452.48 226.51L447.36 228.14L442.23 226.51L442.23 223.27ZM257.82 226.51L262.95 228.14L262.95 231.38L257.82 233.01L252.70 231.38L252.70 228.14ZM268.07 226.51L273.19 228.14L273.19 231.38L268.07 233.01L262.95 231.38L262.95 228.14ZM442.24 226.51L447.36 228.14L447.36 231.38L442.24 233.01L437.11 231.38L437.11 228.14ZM416.62 231.38L421.74 233.01L421.74 236.25L416.62 237.88L411.50 236.25L411.50 233.01ZM437.11 231.38L442.23 233.01L442.23 236.25L437.11 237.88L431.99 236.25L431.99 233.01ZM288.56 236.25L293.68 237.88L293.68 241.12L288.56 242.75L283.44 241.12L283.44 237.88ZM431.99 236.25L437.11 237.88L437.11 241.12L431.99 242.75L426.87 241.12L426.87 237.88ZM483.22 236.25L488.34 237.88L488.34 241.12L483.22 242.75L478.09 241.12L478.09 237.88ZM442.24 245.99L447.36 247.62L447.36 250.86L442.24 252.49L437.11 250.86L437.11 247.62ZM462.73 245.99L467.85 247.62L467.85 250.86L462.73 252.49L457.60 250.86L457.60 247.62ZM472.97 245.99L478.09 247.62L478.09 250.86L472.97 252.49L467.85 250.86L467.85 247.62ZM355.15 250.86L360.27 252.49L360.27 255.73L355.15 257.36L350.03 255.73L350.03 252.49ZM375.64 250.86L380.77 252.49L380.77 255.73L375.64 257.36L370.52 255.73L370.52 252.49ZM268.07 255.73L273.19 257.36L273.19 260.60L268.07 262.23L262.95 260.60L262.95 257.36ZM309.05 255.73L314.17 257.36L314.17 260.60L309.05 262.23L303.93 260.60L303.93 257.36ZM339.78 255.73L344.91 257.36L344.91 260.60L339.78 262.23L334.66 260.60L334.66 257.36ZM324.42 260.60L329.54 262.23L329.54 265.47L324.42 267.10L319.30 265.47L319.30 262.23ZM421.75 265.47L426.87 267.10L426.87 270.34L421.75 271.97L416.62 270.34L416.62 267.10ZM355.15 270.34L360.27 271.97L360.27 275.21L355.15 276.84L350.03 275.21L350.03 271.97ZM411.50 275.21L416.62 276.84L416.62 280.08L411.50 281.71L406.38 280.08L406.38 276.84Z" fill="#154883" stroke="#fff" stroke-opacity="0.22" stroke-width="0.45"/>
<path d="M344.91 163.20L350.03 164.83L350.03 168.07L344.91 169.70L339.79 168.07L339.79 164.83ZM350.03 168.07L355.15 169.70L355.15 172.94L350.03 174.57L344.91 172.94L344.91 169.70ZM303.93 172.94L309.05 174.57L309.05 177.81L303.93 179.44L298.81 177.81L298.81 174.57ZM309.05 177.81L314.17 179.44L314.17 182.68L309.05 184.31L303.93 182.68L303.93 179.44ZM431.99 177.81L437.11 179.44L437.11 182.68L431.99 184.31L426.87 182.68L426.87 179.44ZM288.56 187.55L293.68 189.18L293.68 192.42L288.56 194.05L283.44 192.42L283.44 189.18ZM298.80 187.55L303.93 189.18L303.93 192.42L298.80 194.05L293.68 192.42L293.68 189.18ZM309.05 187.55L314.17 189.18L314.17 192.42L309.05 194.05L303.93 192.42L303.93 189.18ZM262.95 192.42L268.07 194.05L268.07 197.29L262.95 198.92L257.82 197.29L257.82 194.05ZM406.38 192.42L411.50 194.05L411.50 197.29L406.38 198.92L401.25 197.29L401.25 194.05ZM426.87 192.42L431.99 194.05L431.99 197.29L426.87 198.92L421.74 197.29L421.74 194.05ZM391.01 197.29L396.13 198.92L396.13 202.16L391.01 203.79L385.89 202.16L385.89 198.92ZM431.99 197.29L437.11 198.92L437.11 202.16L431.99 203.79L426.87 202.16L426.87 198.92ZM421.75 207.03L426.87 208.66L426.87 211.90L421.75 213.53L416.62 211.90L416.62 208.66ZM437.11 211.90L442.23 213.53L442.23 216.77L437.11 218.40L431.99 216.77L431.99 213.53ZM278.31 216.77L283.44 218.40L283.44 221.64L278.31 223.27L273.19 221.64L273.19 218.40ZM262.95 221.64L268.07 223.27L268.07 226.51L262.95 228.14L257.82 226.51L257.82 223.27ZM273.19 221.64L278.31 223.27L278.31 226.51L273.19 228.14L268.07 226.51L268.07 223.27ZM334.66 221.64L339.79 223.27L339.79 226.51L334.66 228.14L329.54 226.51L329.54 223.27ZM355.15 221.64L360.27 223.27L360.27 226.51L355.15 228.14L350.03 226.51L350.03 223.27ZM416.62 221.64L421.74 223.27L421.74 226.51L416.62 228.14L411.50 226.51L411.50 223.27ZM457.60 221.64L462.72 223.27L462.72 226.51L457.60 228.14L452.48 226.51L452.48 223.27ZM488.34 221.64L493.46 223.27L493.46 226.51L488.34 228.14L483.21 226.51L483.21 223.27ZM298.80 226.51L303.93 228.14L303.93 231.38L298.80 233.01L293.68 231.38L293.68 228.14ZM421.75 226.51L426.87 228.14L426.87 231.38L421.75 233.01L416.62 231.38L416.62 228.14ZM303.93 231.38L309.05 233.01L309.05 236.25L303.93 237.88L298.81 236.25L298.81 233.01ZM406.38 231.38L411.50 233.01L411.50 236.25L406.38 237.88L401.25 236.25L401.25 233.01ZM457.60 231.38L462.72 233.01L462.72 236.25L457.60 237.88L452.48 236.25L452.48 233.01ZM467.85 231.38L472.97 233.01L472.97 236.25L467.85 237.88L462.72 236.25L462.72 233.01ZM426.87 241.12L431.99 242.75L431.99 245.99L426.87 247.62L421.74 245.99L421.74 242.75ZM247.58 245.99L252.70 247.62L252.70 250.86L247.58 252.49L242.46 250.86L242.46 247.62ZM268.07 245.99L273.19 247.62L273.19 250.86L268.07 252.49L262.95 250.86L262.95 247.62ZM273.19 250.86L278.31 252.49L278.31 255.73L273.19 257.36L268.07 255.73L268.07 252.49ZM283.44 250.86L288.56 252.49L288.56 255.73L283.44 257.36L278.31 255.73L278.31 252.49ZM406.38 250.86L411.50 252.49L411.50 255.73L406.38 257.36L401.25 255.73L401.25 252.49ZM467.85 250.86L472.97 252.49L472.97 255.73L467.85 257.36L462.72 255.73L462.72 252.49ZM391.01 255.73L396.13 257.36L396.13 260.60L391.01 262.23L385.89 260.60L385.89 257.36ZM421.75 255.73L426.87 257.36L426.87 260.60L421.75 262.23L416.62 260.60L416.62 257.36ZM472.97 255.73L478.09 257.36L478.09 260.60L472.97 262.23L467.85 260.60L467.85 257.36ZM426.87 260.60L431.99 262.23L431.99 265.47L426.87 267.10L421.74 265.47L421.74 262.23ZM309.05 265.47L314.17 267.10L314.17 270.34L309.05 271.97L303.93 270.34L303.93 267.10ZM380.76 275.21L385.89 276.84L385.89 280.08L380.76 281.71L375.64 280.08L375.64 276.84ZM391.01 275.21L396.13 276.84L396.13 280.08L391.01 281.71L385.89 280.08L385.89 276.84ZM406.38 289.82L411.50 291.45L411.50 294.69L406.38 296.32L401.25 294.69L401.25 291.45Z" fill="#0f5288" stroke="#fff" stroke-opacity="0.22" stroke-width="0.45"/>
<path d="M350.03 158.33L355.15 159.96L355.15 163.20L350.03 164.83L344.91 163.20L344.91 159.96ZM334.66 172.94L339.79 174.57L339.79 177.81L334.66 179.44L329.54 177.81L329.54 174.57ZM416.62 182.68L421.74 184.31L421.74 187.55L416.62 189.18L411.50 187.55L411.50 184.31ZM257.82 187.55L262.95 189.18L262.95 192.42L257.82 194.05L252.70 192.42L252.70 189.18ZM303.93 192.42L309.05 194.05L309.05 197.29L303.93 198.92L298.81 197.29L298.81 194.05ZM344.91 192.42L350.03 194.05L350.03 197.29L344.91 198.92L339.79 197.29L339.79 194.05ZM288.56 197.29L293.68 198.92L293.68 202.16L288.56 203.79L283.44 202.16L283.44 198.92ZM298.80 197.29L303.93 198.92L303.93 202.16L298.80 203.79L293.68 202.16L293.68 198.92ZM339.78 197.29L344.91 198.92L344.91 202.16L339.78 203.79L334.66 202.16L334.66 198.92ZM262.95 202.16L268.07 203.79L268.07 207.03L262.95 208.66L257.82 207.03L257.82 203.79ZM247.58 207.03L252.70 208.66L252.70 211.90L247.58 213.53L242.46 211.90L242.46 208.66ZM268.07 207.03L273.19 208.66L273.19 211.90L268.07 213.53L262.95 211.90L262.95 208.66ZM442.24 207.03L447.36 208.66L447.36 211.90L442.24 213.53L437.11 211.90L437.11 208.66ZM472.97 207.03L478.09 208.66L478.09 211.90L472.97 213.53L467.85 211.90L467.85 208.66ZM303.93 211.90L309.05 213.53L309.05 216.77L303.93 218.40L298.81 216.77L298.81 213.53ZM457.60 211.90L462.72 213.53L462.72 216.77L457.60 218.40L452.48 216.77L452.48 213.53ZM309.05 216.77L314.17 218.40L314.17 221.64L309.05 223.27L303.93 221.64L303.93 218.40ZM329.54 216.77L334.66 218.40L334.66 221.64L329.54 223.27L324.42 221.64L324.42 218.40ZM370.52 216.77L375.64 218.40L375.64 221.64L370.52 223.27L365.40 221.64L365.40 218.40ZM303.93 221.64L309.05 223.27L309.05 226.51L303.93 228.14L298.81 226.51L298.81 223.27ZM309.05 236.25L314.17 237.88L314.17 241.12L309.05 242.75L303.93 241.12L303.93 237.88ZM442.24 236.25L447.36 237.88L447.36 241.12L442.24 242.75L437.11 241.12L437.11 237.88ZM447.36 241.12L452.48 242.75L452.48 245.99L447.36 247.62L442.23 245.99L442.23 242.75ZM278.31 245.99L283.44 247.62L283.44 250.86L278.31 252.49L273.19 250.86L273.19 247.62ZM391.01 245.99L396.13 247.62L396.13 250.86L391.01 252.49L385.89 250.86L385.89 247.62ZM262.95 250.86L268.07 252.49L268.07 255.73L262.95 257.36L257.82 255.73L257.82 252.49ZM324.42 250.86L329.54 252.49L329.54 255.73L324.42 257.36L319.30 255.73L319.30 252.49ZM334.66 250.86L339.79 252.49L339.79 255.73L334.66 257.36L329.54 255.73L329.54 252.49ZM478.09 250.86L483.21 252.49L483.21 255.73L478.09 257.36L472.97 255.73L472.97 252.49ZM442.24 255.73L447.36 257.36L447.36 260.60L442.24 262.23L437.11 260.60L437.11 257.36ZM293.68 260.60L298.81 262.23L298.81 265.47L293.68 267.10L288.56 265.47L288.56 262.23ZM380.76 265.47L385.89 267.10L385.89 270.34L380.76 271.97L375.64 270.34L375.64 267.10ZM411.50 265.47L416.62 267.10L416.62 270.34L411.50 271.97L406.38 270.34L406.38 267.10ZM365.40 270.34L370.52 271.97L370.52 275.21L365.40 276.84L360.28 275.21L360.28 271.97ZM355.15 280.08L360.27 281.71L360.27 284.95L355.15 286.58L350.03 284.95L350.03 281.71ZM365.40 280.08L370.52 281.71L370.52 284.95L365.40 286.58L360.28 284.95L360.28 281.71Z" fill="#0f5b89" stroke="#fff" stroke-opacity="0.22" stroke-width="0.45"/>
<path d="M339.78 177.81L344.91 179.44L344.91 182.68L339.78 184.31L334.66 182.68L334.66 179.44ZM350.03 177.81L355.15 179.44L355.15 182.68L350.03 184.31L344.91 182.68L344.91 179.44ZM411.50 177.81L416.62 179.44L416.62 182.68L411.50 184.31L406.38 182.68L406.38 179.44ZM370.52 187.55L375.64 189.18L375.64 192.42L370.52 194.05L365.40 192.42L365.40 189.18ZM375.64 192.42L380.77 194.05L380.77 197.29L375.64 198.92L370.52 197.29L370.52 194.05ZM385.89 192.42L391.01 194.05L391.01 197.29L385.89 198.92L380.76 197.29L380.76 194.05ZM416.62 192.42L421.74 194.05L421.74 197.29L416.62 198.92L411.50 197.29L411.50 194.05ZM268.07 197.29L273.19 198.92L273.19 202.16L268.07 203.79L262.95 202.16L262.95 198.92ZM426.87 202.16L431.99 203.79L431.99 207.03L426.87 208.66L421.74 207.03L421.74 203.79ZM288.56 216.77L293.68 218.40L293.68 221.64L288.56 223.27L283.44 221.64L283.44 218.40ZM298.80 216.77L303.93 218.40L303.93 221.64L298.80 223.27L293.68 221.64L293.68 218.40ZM339.78 216.77L344.91 218.40L344.91 221.64L339.78 223.27L334.66 221.64L334.66 218.40ZM442.24 216.77L447.36 218.40L447.36 221.64L442.24 223.27L437.11 221.64L437.11 218.40ZM293.68 221.64L298.81 223.27L298.81 226.51L293.68 228.14L288.56 226.51L288.56 223.27ZM278.31 226.51L283.44 228.14L283.44 231.38L278.31 233.01L273.19 231.38L273.19 228.14ZM360.27 226.51L365.40 228.14L365.40 231.38L360.27 233.01L355.15 231.38L355.15 228.14ZM273.19 231.38L278.31 233.01L278.31 236.25L273.19 237.88L268.07 236.25L268.07 233.01ZM385.89 231.38L391.01 233.01L391.01 236.25L385.89 237.88L380.76 236.25L380.76 233.01ZM314.17 241.12L319.30 242.75L319.30 245.99L314.17 247.62L309.05 245.99L309.05 242.75ZM437.11 241.12L442.23 242.75L442.23 245.99L437.11 247.62L431.99 245.99L431.99 242.75ZM273.19 260.60L278.31 262.23L278.31 265.47L273.19 267.10L268.07 265.47L268.07 262.23ZM303.93 270.34L309.05 271.97L309.05 275.21L303.93 276.84L298.81 275.21L298.81 271.97ZM385.89 270.34L391.01 271.97L391.01 275.21L385.89 276.84L380.76 275.21L380.76 271.97Z" fill="#0f638b" stroke="#fff" stroke-opacity="0.22" stroke-width="0.45"/>
<path d="M370.52 168.07L375.64 169.70L375.64 172.94L370.52 174.57L365.40 172.94L365.40 169.70ZM391.01 177.81L396.13 179.44L396.13 182.68L391.01 184.31L385.89 182.68L385.89 179.44ZM334.66 182.68L339.79 184.31L339.79 187.55L334.66 189.18L329.54 187.55L329.54 184.31ZM375.64 182.68L380.77 184.31L380.77 187.55L375.64 189.18L370.52 187.55L370.52 184.31ZM385.89 182.68L391.01 184.31L391.01 187.55L385.89 189.18L380.76 187.55L380.76 184.31ZM329.54 187.55L334.66 189.18L334.66 192.42L329.54 194.05L324.42 192.42L324.42 189.18ZM447.36 192.42L452.48 194.05L452.48 197.29L447.36 198.92L442.23 197.29L442.23 194.05ZM278.31 197.29L283.44 198.92L283.44 202.16L278.31 203.79L273.19 202.16L273.19 198.92ZM355.15 202.16L360.27 203.79L360.27 207.03L355.15 208.66L350.03 207.03L350.03 203.79ZM365.40 202.16L370.52 203.79L370.52 207.03L365.40 208.66L360.28 207.03L360.28 203.79ZM437.11 202.16L442.23 203.79L442.23 207.03L437.11 208.66L431.99 207.03L431.99 203.79ZM431.99 207.03L437.11 208.66L437.11 211.90L431.99 213.53L426.87 211.90L426.87 208.66ZM252.70 211.90L257.82 213.53L257.82 216.77L252.70 218.40L247.58 216.77L247.58 213.53ZM355.15 211.90L360.27 213.53L360.27 216.77L355.15 218.40L350.03 216.77L350.03 213.53ZM426.87 211.90L431.99 213.53L431.99 216.77L426.87 218.40L421.74 216.77L421.74 213.53ZM257.82 216.77L262.95 218.40L262.95 221.64L257.82 223.27L252.70 221.64L252.70 218.40ZM268.07 216.77L273.19 218.40L273.19 221.64L268.07 223.27L262.95 221.64L262.95 218.40ZM391.01 216.77L396.13 218.40L396.13 221.64L391.01 223.27L385.89 221.64L385.89 218.40ZM421.75 216.77L426.87 218.40L426.87 221.64L421.75 223.27L416.62 221.64L416.62 218.40ZM262.95 231.38L268.07 233.01L268.07 236.25L262.95 237.88L257.82 236.25L257.82 233.01ZM375.64 231.38L380.77 233.01L380.77 236.25L375.64 237.88L370.52 236.25L370.52 233.01ZM278.31 236.25L283.44 237.88L283.44 241.12L278.31 242.75L273.19 241.12L273.19 237.88ZM411.50 236.25L416.62 237.88L416.62 241.12L411.50 242.75L406.38 241.12L406.38 237.88ZM406.38 241.12L411.50 242.75L411.50 245.99L406.38 247.62L401.25 245.99L401.25 242.75ZM416.62 241.12L421.74 242.75L421.74 245.99L416.62 247.62L411.50 245.99L411.50 242.75ZM411.50 245.99L416.62 247.62L416.62 250.86L411.50 252.49L406.38 250.86L406.38 247.62ZM431.99 245.99L437.11 247.62L437.11 250.86L431.99 252.49L426.87 250.86L426.87 247.62ZM452.48 245.99L457.60 247.62L457.60 250.86L452.48 252.49L447.36 250.86L447.36 247.62ZM437.11 250.86L442.23 252.49L442.23 255.73L437.11 257.36L431.99 255.73L431.99 252.49ZM370.52 255.73L375.64 257.36L375.64 260.60L370.52 262.23L365.40 260.60L365.40 257.36ZM385.89 260.60L391.01 262.23L391.01 265.47L385.89 267.10L380.76 265.47L380.76 262.23ZM396.13 260.60L401.25 262.23L401.25 265.47L396.13 267.10L391.01 265.47L391.01 262.23ZM406.38 260.60L411.50 262.23L411.50 265.47L406.38 267.10L401.25 265.47L401.25 262.23ZM329.54 265.47L334.66 267.10L334.66 270.34L329.54 271.97L324.42 270.34L324.42 267.10ZM350.03 265.47L355.15 267.10L355.15 270.34L350.03 271.97L344.91 270.34L344.91 267.10Z" fill="#0f6c8c" stroke="#fff" stroke-opacity="0.22" stroke-width="0.45"/>
<path d="M319.29 187.55L324.42 189.18L324.42 192.42L319.29 194.05L314.17 192.42L314.17 189.18ZM293.68 202.16L298.81 203.79L298.81 207.03L293.68 208.66L288.56 207.03L288.56 203.79ZM385.89 202.16L391.01 203.79L391.01 207.03L385.89 208.66L380.76 207.03L380.76 203.79ZM416.62 202.16L421.74 203.79L421.74 207.03L416.62 208.66L411.50 207.03L411.50 203.79ZM278.31 207.03L283.44 208.66L283.44 211.90L278.31 213.53L273.19 211.90L273.19 208.66ZM370.52 207.03L375.64 208.66L375.64 211.90L370.52 213.53L365.40 211.90L365.40 208.66ZM391.01 207.03L396.13 208.66L396.13 211.90L391.01 213.53L385.89 211.90L385.89 208.66ZM401.25 207.03L406.38 208.66L406.38 211.90L401.25 213.53L396.13 211.90L396.13 208.66ZM334.66 211.90L339.79 213.53L339.79 216.77L334.66 218.40L329.54 216.77L329.54 213.53ZM426.87 231.38L431.99 233.01L431.99 236.25L426.87 237.88L421.74 236.25L421.74 233.01ZM303.93 241.12L309.05 242.75L309.05 245.99L303.93 247.62L298.81 245.99L298.81 242.75ZM334.66 241.12L339.79 242.75L339.79 245.99L334.66 247.62L329.54 245.99L329.54 242.75ZM355.15 241.12L360.27 242.75L360.27 245.99L355.15 247.62L350.03 245.99L350.03 242.75ZM309.05 245.99L314.17 247.62L314.17 250.86L309.05 252.49L303.93 250.86L303.93 247.62ZM421.75 245.99L426.87 247.62L426.87 250.86L421.75 252.49L416.62 250.86L416.62 247.62ZM396.13 250.86L401.25 252.49L401.25 255.73L396.13 257.36L391.01 255.73L391.01 252.49ZM416.62 250.86L421.74 252.49L421.74 255.73L416.62 257.36L411.50 255.73L411.50 252.49ZM334.66 260.60L339.79 262.23L339.79 265.47L334.66 267.10L329.54 265.47L329.54 262.23ZM344.91 260.60L350.03 262.23L350.03 265.47L344.91 267.10L339.79 265.47L339.79 262.23ZM391.01 265.47L396.13 267.10L396.13 270.34L391.01 271.97L385.89 270.34L385.89 267.10Z" fill="#11768a" stroke="#fff" stroke-opacity="0.22" stroke-width="0.45"/>
<path d="M360.27 187.55L365.40 189.18L365.40 192.42L360.27 194.05L355.15 192.42L355.15 189.18ZM380.76 187.55L385.89 189.18L385.89 192.42L380.76 194.05L375.64 192.42L375.64 189.18ZM293.68 192.42L298.81 194.05L298.81 197.29L293.68 198.92L288.56 197.29L288.56 194.05ZM314.17 192.42L319.30 194.05L319.30 197.29L314.17 198.92L309.05 197.29L309.05 194.05ZM360.27 197.29L365.40 198.92L365.40 202.16L360.27 203.79L355.15 202.16L355.15 198.92ZM421.75 197.29L426.87 198.92L426.87 202.16L421.75 203.79L416.62 202.16L416.62 198.92ZM334.66 202.16L339.79 203.79L339.79 207.03L334.66 208.66L329.54 207.03L329.54 203.79ZM344.91 202.16L350.03 203.79L350.03 207.03L344.91 208.66L339.79 207.03L339.79 203.79ZM365.40 211.90L370.52 213.53L370.52 216.77L365.40 218.40L360.28 216.77L360.28 213.53ZM396.13 211.90L401.25 213.53L401.25 216.77L396.13 218.40L391.01 216.77L391.01 213.53ZM431.99 216.77L437.11 218.40L437.11 221.64L431.99 223.27L426.87 221.64L426.87 218.40ZM370.52 226.51L375.64 228.14L375.64 231.38L370.52 233.01L365.40 231.38L365.40 228.14ZM355.15 231.38L360.27 233.01L360.27 236.25L355.15 237.88L350.03 236.25L350.03 233.01ZM293.68 250.86L298.81 252.49L298.81 255.73L293.68 257.36L288.56 255.73L288.56 252.49ZM319.29 255.73L324.42 257.36L324.42 260.60L319.29 262.23L314.17 260.60L314.17 257.36ZM355.15 260.60L360.27 262.23L360.27 265.47L355.15 267.10L350.03 265.47L350.03 262.23ZM339.78 275.21L344.91 276.84L344.91 280.08L339.78 281.71L334.66 280.08L334.66 276.84Z" fill="#137f88" stroke="#fff" stroke-opacity="0.22" stroke-width="0.45"/>
<path d="M365.40 192.42L370.52 194.05L370.52 197.29L365.40 198.92L360.28 197.29L360.28 194.05ZM319.29 197.29L324.42 198.92L324.42 202.16L319.29 203.79L314.17 202.16L314.17 198.92ZM329.54 207.03L334.66 208.66L334.66 211.90L329.54 213.53L324.42 211.90L324.42 208.66ZM350.03 207.03L355.15 208.66L355.15 211.90L350.03 213.53L344.91 211.90L344.91 208.66ZM385.89 221.64L391.01 223.27L391.01 226.51L385.89 228.14L380.76 226.51L380.76 223.27ZM329.54 226.51L334.66 228.14L334.66 231.38L329.54 233.01L324.42 231.38L324.42 228.14ZM431.99 226.51L437.11 228.14L437.11 231.38L431.99 233.01L426.87 231.38L426.87 228.14ZM344.91 231.38L350.03 233.01L350.03 236.25L344.91 237.88L339.79 236.25L339.79 233.01ZM319.29 236.25L324.42 237.88L324.42 241.12L319.29 242.75L314.17 241.12L314.17 237.88ZM391.01 236.25L396.13 237.88L396.13 241.12L391.01 242.75L385.89 241.12L385.89 237.88ZM401.25 236.25L406.38 237.88L406.38 241.12L401.25 242.75L396.13 241.12L396.13 237.88ZM421.75 236.25L426.87 237.88L426.87 241.12L421.75 242.75L416.62 241.12L416.62 237.88ZM350.03 245.99L355.15 247.62L355.15 250.86L350.03 252.49L344.91 250.86L344.91 247.62ZM314.17 250.86L319.30 252.49L319.30 255.73L314.17 257.36L309.05 255.73L309.05 252.49ZM365.40 260.60L370.52 262.23L370.52 265.47L365.40 267.10L360.28 265.47L360.28 262.23Z" fill="#148887" stroke="#fff" stroke-opacity="0.22" stroke-width="0.45"/>
<path d="M324.42 192.42L329.54 194.05L329.54 197.29L324.42 198.92L319.30 197.29L319.30 194.05ZM355.15 192.42L360.27 194.05L360.27 197.29L355.15 198.92L350.03 197.29L350.03 194.05ZM401.25 197.29L406.38 198.92L406.38 202.16L401.25 203.79L396.13 202.16L396.13 198.92ZM411.50 197.29L416.62 198.92L416.62 202.16L411.50 203.79L406.38 202.16L406.38 198.92ZM324.42 202.16L329.54 203.79L329.54 207.03L324.42 208.66L319.30 207.03L319.30 203.79ZM452.48 207.03L457.60 208.66L457.60 211.90L452.48 213.53L447.36 211.90L447.36 208.66ZM293.68 211.90L298.81 213.53L298.81 216.77L293.68 218.40L288.56 216.77L288.56 213.53ZM416.62 211.90L421.74 213.53L421.74 216.77L416.62 218.40L411.50 216.77L411.50 213.53ZM401.25 216.77L406.38 218.40L406.38 221.64L401.25 223.27L396.13 221.64L396.13 218.40ZM411.50 216.77L416.62 218.40L416.62 221.64L411.50 223.27L406.38 221.64L406.38 218.40ZM309.05 226.51L314.17 228.14L314.17 231.38L309.05 233.01L303.93 231.38L303.93 228.14ZM380.76 226.51L385.89 228.14L385.89 231.38L380.76 233.01L375.64 231.38L375.64 228.14ZM401.25 226.51L406.38 228.14L406.38 231.38L401.25 233.01L396.13 231.38L396.13 228.14ZM472.97 226.51L478.09 228.14L478.09 231.38L472.97 233.01L467.85 231.38L467.85 228.14ZM314.17 231.38L319.30 233.01L319.30 236.25L314.17 237.88L309.05 236.25L309.05 233.01ZM334.66 231.38L339.79 233.01L339.79 236.25L334.66 237.88L329.54 236.25L329.54 233.01ZM344.91 241.12L350.03 242.75L350.03 245.99L344.91 247.62L339.79 245.99L339.79 242.75ZM375.64 241.12L380.77 242.75L380.77 245.99L375.64 247.62L370.52 245.99L370.52 242.75ZM329.54 245.99L334.66 247.62L334.66 250.86L329.54 252.49L324.42 250.86L324.42 247.62ZM360.27 255.73L365.40 257.36L365.40 260.60L360.27 262.23L355.15 260.60L355.15 257.36ZM375.64 260.60L380.77 262.23L380.77 265.47L375.64 267.10L370.52 265.47L370.52 262.23Z" fill="#148b85" stroke="#fff" stroke-opacity="0.22" stroke-width="0.45"/>
<path d="M344.91 172.94L350.03 174.57L350.03 177.81L344.91 179.44L339.79 177.81L339.79 174.57ZM273.19 202.16L278.31 203.79L278.31 207.03L273.19 208.66L268.07 207.03L268.07 203.79ZM298.80 207.03L303.93 208.66L303.93 211.90L298.80 213.53L293.68 211.90L293.68 208.66ZM385.89 211.90L391.01 213.53L391.01 216.77L385.89 218.40L380.76 216.77L380.76 213.53ZM319.29 216.77L324.42 218.40L324.42 221.64L319.29 223.27L314.17 221.64L314.17 218.40ZM365.40 221.64L370.52 223.27L370.52 226.51L365.40 228.14L360.28 226.51L360.28 223.27ZM375.64 221.64L380.77 223.27L380.77 226.51L375.64 228.14L370.52 226.51L370.52 223.27ZM288.56 226.51L293.68 228.14L293.68 231.38L288.56 233.01L283.44 231.38L283.44 228.14ZM298.80 236.25L303.93 237.88L303.93 241.12L298.80 242.75L293.68 241.12L293.68 237.88ZM396.13 241.12L401.25 242.75L401.25 245.99L396.13 247.62L391.01 245.99L391.01 242.75ZM385.89 250.86L391.01 252.49L391.01 255.73L385.89 257.36L380.76 255.73L380.76 252.49Z" fill="#159181" stroke="#fff" stroke-opacity="0.22" stroke-width="0.45"/>
<path d="M370.52 177.81L375.64 179.44L375.64 182.68L370.52 184.31L365.40 182.68L365.40 179.44ZM391.01 187.55L396.13 189.18L396.13 192.42L391.01 194.05L385.89 192.42L385.89 189.18ZM329.54 197.29L334.66 198.92L334.66 202.16L329.54 203.79L324.42 202.16L324.42 198.92ZM375.64 202.16L380.77 203.79L380.77 207.03L375.64 208.66L370.52 207.03L370.52 203.79ZM406.38 211.90L411.50 213.53L411.50 216.77L406.38 218.40L401.25 216.77L401.25 213.53ZM314.17 221.64L319.30 223.27L319.30 226.51L314.17 228.14L309.05 226.51L309.05 223.27ZM324.42 221.64L329.54 223.27L329.54 226.51L324.42 228.14L319.30 226.51L319.30 223.27ZM319.29 226.51L324.42 228.14L324.42 231.38L319.29 233.01L314.17 231.38L314.17 228.14ZM339.78 226.51L344.91 228.14L344.91 231.38L339.78 233.01L334.66 231.38L334.66 228.14ZM324.42 241.12L329.54 242.75L329.54 245.99L324.42 247.62L319.30 245.99L319.30 242.75ZM365.40 241.12L370.52 242.75L370.52 245.99L365.40 247.62L360.28 245.99L360.28 242.75ZM385.89 241.12L391.01 242.75L391.01 245.99L385.89 247.62L380.76 245.99L380.76 242.75ZM319.29 245.99L324.42 247.62L324.42 250.86L319.29 252.49L314.17 250.86L314.17 247.62ZM339.78 245.99L344.91 247.62L344.91 250.86L339.78 252.49L334.66 250.86L334.66 247.62Z" fill="#17997c" stroke="#fff" stroke-opacity="0.22" stroke-width="0.45"/>
<path d="M370.52 197.29L375.64 198.92L375.64 202.16L370.52 203.79L365.40 202.16L365.40 198.92ZM314.17 202.16L319.30 203.79L319.30 207.03L314.17 208.66L309.05 207.03L309.05 203.79ZM324.42 211.90L329.54 213.53L329.54 216.77L324.42 218.40L319.30 216.77L319.30 213.53ZM411.50 226.51L416.62 228.14L416.62 231.38L411.50 233.01L406.38 231.38L406.38 228.14ZM401.25 245.99L406.38 247.62L406.38 250.86L401.25 252.49L396.13 250.86L396.13 247.62ZM350.03 255.73L355.15 257.36L355.15 260.60L350.03 262.23L344.91 260.60L344.91 257.36Z" fill="#19a076" stroke="#fff" stroke-opacity="0.22" stroke-width="0.45"/>
<path d="M288.56 207.03L293.68 208.66L293.68 211.90L288.56 213.53L283.44 211.90L283.44 208.66ZM350.03 216.77L355.15 218.40L355.15 221.64L350.03 223.27L344.91 221.64L344.91 218.40ZM360.27 216.77L365.40 218.40L365.40 221.64L360.27 223.27L355.15 221.64L355.15 218.40ZM350.03 226.51L355.15 228.14L355.15 231.38L350.03 233.01L344.91 231.38L344.91 228.14ZM360.27 245.99L365.40 247.62L365.40 250.86L360.27 252.49L355.15 250.86L355.15 247.62ZM370.52 245.99L375.64 247.62L375.64 250.86L370.52 252.49L365.40 250.86L365.40 247.62ZM380.76 245.99L385.89 247.62L385.89 250.86L380.76 252.49L375.64 250.86L375.64 247.62ZM344.91 250.86L350.03 252.49L350.03 255.73L344.91 257.36L339.79 255.73L339.79 252.49Z" fill="#19a971" stroke="#fff" stroke-opacity="0.22" stroke-width="0.45"/>
<path d="M360.27 207.03L365.40 208.66L365.40 211.90L360.27 213.53L355.15 211.90L355.15 208.66ZM344.91 221.64L350.03 223.27L350.03 226.51L344.91 228.14L339.79 226.51L339.79 223.27ZM406.38 221.64L411.50 223.27L411.50 226.51L406.38 228.14L401.25 226.51L401.25 223.27ZM298.80 245.99L303.93 247.62L303.93 250.86L298.80 252.49L293.68 250.86L293.68 247.62Z" fill="#19b16b" stroke="#fff" stroke-opacity="0.22" stroke-width="0.45"/>
<path d="M309.05 197.29L314.17 198.92L314.17 202.16L309.05 203.79L303.93 202.16L303.93 198.92ZM380.76 197.29L385.89 198.92L385.89 202.16L380.76 203.79L375.64 202.16L375.64 198.92ZM344.91 211.90L350.03 213.53L350.03 216.77L344.91 218.40L339.79 216.77L339.79 213.53ZM380.76 216.77L385.89 218.40L385.89 221.64L380.76 223.27L375.64 221.64L375.64 218.40ZM365.40 231.38L370.52 233.01L370.52 236.25L365.40 237.88L360.28 236.25L360.28 233.01ZM350.03 236.25L355.15 237.88L355.15 241.12L350.03 242.75L344.91 241.12L344.91 237.88ZM401.25 255.73L406.38 257.36L406.38 260.60L401.25 262.23L396.13 260.60L396.13 257.36Z" fill="#1bb667" stroke="#fff" stroke-opacity="0.22" stroke-width="0.45"/>
<path d="M396.13 202.16L401.25 203.79L401.25 207.03L396.13 208.66L391.01 207.03L391.01 203.79ZM339.78 207.03L344.91 208.66L344.91 211.90L339.78 213.53L334.66 211.90L334.66 208.66ZM411.50 207.03L416.62 208.66L416.62 211.90L411.50 213.53L406.38 211.90L406.38 208.66ZM437.11 221.64L442.23 223.27L442.23 226.51L437.11 228.14L431.99 226.51L431.99 223.27ZM324.42 231.38L329.54 233.01L329.54 236.25L324.42 237.88L319.30 236.25L319.30 233.01ZM396.13 231.38L401.25 233.01L401.25 236.25L396.13 237.88L391.01 236.25L391.01 233.01ZM339.78 236.25L344.91 237.88L344.91 241.12L339.78 242.75L334.66 241.12L334.66 237.88Z" fill="#1db865" stroke="#fff" stroke-opacity="0.22" stroke-width="0.45"/>
<path d="M309.05 207.03L314.17 208.66L314.17 211.90L309.05 213.53L303.93 211.90L303.93 208.66ZM319.29 207.03L324.42 208.66L324.42 211.90L319.29 213.53L314.17 211.90L314.17 208.66ZM380.76 207.03L385.89 208.66L385.89 211.90L380.76 213.53L375.64 211.90L375.64 208.66ZM370.52 236.25L375.64 237.88L375.64 241.12L370.52 242.75L365.40 241.12L365.40 237.88Z" fill="#31be5f" stroke="#fff" stroke-opacity="0.22" stroke-width="0.45"/>
<path d="M350.03 197.29L355.15 198.92L355.15 202.16L350.03 203.79L344.91 202.16L344.91 198.92ZM314.17 211.90L319.30 213.53L319.30 216.77L314.17 218.40L309.05 216.77L309.05 213.53ZM375.64 211.90L380.77 213.53L380.77 216.77L375.64 218.40L370.52 216.77L370.52 213.53Z" fill="#4bc459" stroke="#fff" stroke-opacity="0.22" stroke-width="0.45"/>
<path d="M380.76 236.25L385.89 237.88L385.89 241.12L380.76 242.75L375.64 241.12L375.64 237.88Z" fill="#66cb52" stroke="#fff" stroke-opacity="0.22" stroke-width="0.45"/>
<path d="M360.27 236.25L365.40 237.88L365.40 241.12L360.27 242.75L355.15 241.12L355.15 237.88Z" fill="#81d147" stroke="#fff" stroke-opacity="0.22" stroke-width="0.45"/>
<path d="M396.13 221.64L401.25 223.27L401.25 226.51L396.13 228.14L391.01 226.51L391.01 223.27Z" fill="#fde725" stroke="#fff" stroke-opacity="0.22" stroke-width="0.45"/>
<path d="M82.12 381.80v-5.0M78.70 378.90h5.0M87.17 381.80v-5.0M78.70 376.18h5.0M91.62 381.80v-5.0M78.70 373.77h5.0M95.60 381.80v-10.0M78.70 371.62h10.0M121.80 381.80v-5.0M78.70 357.47h5.0M137.12 381.80v-5.0M78.70 349.19h5.0M148.00 381.80v-5.0M78.70 343.31h5.0M156.43 381.80v-5.0M78.70 338.75h5.0M163.32 381.80v-5.0M78.70 335.03h5.0M169.15 381.80v-5.0M78.70 331.88h5.0M174.20 381.80v-5.0M78.70 329.16h5.0M178.65 381.80v-5.0M78.70 326.75h5.0M182.63 381.80v-10.0M78.70 324.60h10.0M208.83 381.80v-5.0M78.70 310.45h5.0M224.15 381.80v-5.0M78.70 302.17h5.0M235.03 381.80v-5.0M78.70 296.29h5.0M243.46 381.80v-5.0M78.70 291.73h5.0M250.35 381.80v-5.0M78.70 288.01h5.0M256.18 381.80v-5.0M78.70 284.86h5.0M261.23 381.80v-5.0M78.70 282.14h5.0M265.68 381.80v-5.0M78.70 279.73h5.0M269.66 381.80v-10.0M78.70 277.58h10.0M295.86 381.80v-5.0M78.70 263.43h5.0M311.18 381.80v-5.0M78.70 255.15h5.0M322.06 381.80v-5.0M78.70 249.27h5.0M330.49 381.80v-5.0M78.70 244.71h5.0M337.38 381.80v-5.0M78.70 240.99h5.0M343.21 381.80v-5.0M78.70 237.84h5.0M348.26 381.80v-5.0M78.70 235.12h5.0M352.71 381.80v-5.0M78.70 232.71h5.0M356.69 381.80v-10.0M78.70 230.56h10.0M382.89 381.80v-5.0M78.70 216.41h5.0M398.21 381.80v-5.0M78.70 208.13h5.0M409.09 381.80v-5.0M78.70 202.25h5.0M417.52 381.80v-5.0M78.70 197.69h5.0M424.41 381.80v-5.0M78.70 193.97h5.0M430.24 381.80v-5.0M78.70 190.82h5.0M435.29 381.80v-5.0M78.70 188.10h5.0M439.74 381.80v-5.0M78.70 185.69h5.0M443.72 381.80v-10.0M78.70 183.54h10.0M469.92 381.80v-5.0M78.70 169.39h5.0M485.24 381.80v-5.0M78.70 161.11h5.0M496.12 381.80v-5.0M78.70 155.23h5.0M504.55 381.80v-5.0M78.70 150.67h5.0M511.44 381.80v-5.0M78.70 146.95h5.0M517.27 381.80v-5.0M78.70 143.80h5.0M522.32 381.80v-5.0M78.70 141.08h5.0M526.77 381.80v-5.0M78.70 138.67h5.0M530.75 381.80v-10.0M78.70 136.52h10.0M556.95 381.80v-5.0M78.70 122.37h5.0M572.27 381.80v-5.0M78.70 114.09h5.0M583.15 381.80v-5.0M78.70 108.21h5.0M591.58 381.80v-5.0M78.70 103.65h5.0M598.47 381.80v-5.0M78.70 99.93h5.0M604.30 381.80v-5.0M78.70 96.78h5.0M609.35 381.80v-5.0M78.70 94.06h5.0M613.80 381.80v-5.0M78.70 91.65h5.0M617.78 381.80v-10.0M78.70 89.50h10.0" stroke="#000" stroke-width="1" fill="none"/>
<path d="M78.70 78.35H631.5V381.80" stroke="#2a2a2a" stroke-width="1" fill="none"/>
<path d="M78.7 77.85V382.6" stroke="#000" stroke-width="1.3" fill="none"/>
<path d="M78.05 381.85H632" stroke="#000" stroke-width="1.6" fill="none"/>
<g opacity="0.999">
<text transform="translate(80.64 406.8) rotate(0.06)" font-size="15.6" stroke="#000" stroke-width="0.20">10<tspan dx="0.15" dy="-7.9" font-size="10.9">−3</tspan></text>
<text transform="translate(65 101.28) rotate(-90)" font-size="15.6" stroke="#000" stroke-width="0.20">10<tspan dx="0.15" dy="-7.9" font-size="10.9">3</tspan></text>
<text transform="translate(167.67 406.8) rotate(0.06)" font-size="15.6" stroke="#000" stroke-width="0.20">10<tspan dx="0.15" dy="-7.9" font-size="10.9">−2</tspan></text>
<text transform="translate(65 148.30) rotate(-90)" font-size="15.6" stroke="#000" stroke-width="0.20">10<tspan dx="0.15" dy="-7.9" font-size="10.9">2</tspan></text>
<text transform="translate(254.70 406.8) rotate(0.06)" font-size="15.6" stroke="#000" stroke-width="0.20">10<tspan dx="0.15" dy="-7.9" font-size="10.9">−1</tspan></text>
<text transform="translate(65 195.32) rotate(-90)" font-size="15.6" stroke="#000" stroke-width="0.20">10<tspan dx="0.15" dy="-7.9" font-size="10.9">1</tspan></text>
<text transform="translate(344.91 406.8) rotate(0.06)" font-size="15.6" stroke="#000" stroke-width="0.20">10<tspan dx="0.15" dy="-7.9" font-size="10.9">0</tspan></text>
<text transform="translate(65 242.34) rotate(-90)" font-size="15.6" stroke="#000" stroke-width="0.20">10<tspan dx="0.15" dy="-7.9" font-size="10.9">0</tspan></text>
<text transform="translate(431.94 406.8) rotate(0.06)" font-size="15.6" stroke="#000" stroke-width="0.20">10<tspan dx="0.15" dy="-7.9" font-size="10.9">1</tspan></text>
<text transform="translate(65 292.54) rotate(-90)" font-size="15.6" stroke="#000" stroke-width="0.20">10<tspan dx="0.15" dy="-7.9" font-size="10.9">−1</tspan></text>
<text transform="translate(518.97 406.8) rotate(0.06)" font-size="15.6" stroke="#000" stroke-width="0.20">10<tspan dx="0.15" dy="-7.9" font-size="10.9">2</tspan></text>
<text transform="translate(65 339.56) rotate(-90)" font-size="15.6" stroke="#000" stroke-width="0.20">10<tspan dx="0.15" dy="-7.9" font-size="10.9">−2</tspan></text>
<text transform="translate(606.00 406.8) rotate(0.06)" font-size="15.6" stroke="#000" stroke-width="0.20">10<tspan dx="0.15" dy="-7.9" font-size="10.9">3</tspan></text>
<text transform="translate(65 386.58) rotate(-90)" font-size="15.6" stroke="#000" stroke-width="0.20">10<tspan dx="0.15" dy="-7.9" font-size="10.9">−3</tspan></text>
<defs><linearGradient id="lg" x1="0" y1="1" x2="0" y2="0">
<stop offset="0.0000" stop-color="#3a0044"/>
<stop offset="0.0857" stop-color="#3a0044"/>
<stop offset="0.1714" stop-color="#321e64"/>
<stop offset="0.2571" stop-color="#1e3c7d"/>
<stop offset="0.3057" stop-color="#0f5087"/>
<stop offset="0.3914" stop-color="#0f698c"/>
<stop offset="0.4800" stop-color="#148787"/>
<stop offset="0.5257" stop-color="#148c84"/>
<stop offset="0.5914" stop-color="#199e78"/>
<stop offset="0.6686" stop-color="#19b469"/>
<stop offset="0.7229" stop-color="#1eb964"/>
<stop offset="0.8086" stop-color="#6ecd50"/>
<stop offset="0.8857" stop-color="#b9de2d"/>
<stop offset="0.9571" stop-color="#f5e623"/>
<stop offset="1.0000" stop-color="#fde725"/>
</linearGradient></defs>
<rect x="590.4" y="86.4" width="27.5" height="75.7" fill="url(#lg)" stroke="#000" stroke-width="0.6"/>
<text transform="translate(587.6 91.10) rotate(0.06)" font-size="15.6" text-anchor="end" stroke="#000" stroke-width="0.20">35</text>
<text transform="translate(587.6 101.93) rotate(0.06)" font-size="15.6" text-anchor="end" stroke="#000" stroke-width="0.20">30</text>
<text transform="translate(587.6 112.76) rotate(0.06)" font-size="15.6" text-anchor="end" stroke="#000" stroke-width="0.20">25</text>
<text transform="translate(587.6 123.59) rotate(0.06)" font-size="15.6" text-anchor="end" stroke="#000" stroke-width="0.20">20</text>
<text transform="translate(587.6 134.42) rotate(0.06)" font-size="15.6" text-anchor="end" stroke="#000" stroke-width="0.20">15</text>
<text transform="translate(587.6 145.25) rotate(0.06)" font-size="15.6" text-anchor="end" stroke="#000" stroke-width="0.20">10</text>
<text transform="translate(587.6 156.08) rotate(0.06)" font-size="15.6" text-anchor="end" stroke="#000" stroke-width="0.20">5</text>
<text transform="translate(587.6 166.91) rotate(0.06)" font-size="15.6" text-anchor="end" stroke="#000" stroke-width="0.20">0</text>
<text transform="translate(568.1 124) rotate(-90)" font-size="15.6" text-anchor="middle" stroke="#000" stroke-width="0.20">count</text>
</g>
</svg></body></html>
